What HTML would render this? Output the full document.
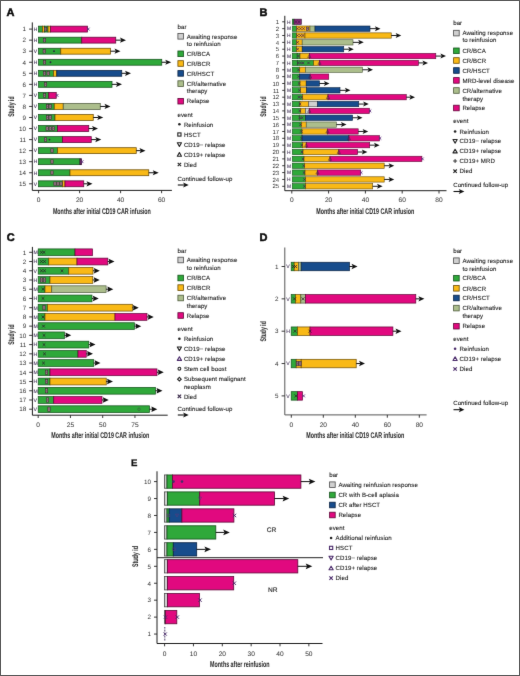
<!DOCTYPE html>
<html><head><meta charset="utf-8"><style>
html,body{margin:0;padding:0;background:#fff;}
svg{display:block;}
text{font-family:"Liberation Sans", sans-serif;text-rendering:geometricPrecision;}
</style></head><body>
<svg width="520" height="676" viewBox="0 0 520 676">
<defs><filter id="bl" x="0" y="0" width="520" height="676" filterUnits="userSpaceOnUse" color-interpolation-filters="sRGB"><feConvolveMatrix order="3" kernelMatrix="0.0052 0.0619 0.0052 0.0619 0.7314 0.0619 0.0052 0.0619 0.0052" edgeMode="duplicate" preserveAlpha="true"/></filter></defs>
<g filter="url(#bl)">
<rect x="0" y="0" width="520" height="676" fill="#fff"/>
<text x="6.6" y="16.3" font-size="11" font-weight="bold" fill="#0a0a0a" stroke="#0a0a0a" stroke-width="0.5">A</text>
<path d="M32.30,22.40 L32.30,190.40 L171.90,190.40" fill="none" stroke="#111" stroke-width="0.95"/>
<line x1="29.10" y1="29.10" x2="32.30" y2="29.10" stroke="#222" stroke-width="0.9"/>
<text x="26.10" y="31.37" font-size="6.3" text-anchor="end" fill="#333">1</text>
<line x1="29.10" y1="40.15" x2="32.30" y2="40.15" stroke="#222" stroke-width="0.9"/>
<text x="26.10" y="42.42" font-size="6.3" text-anchor="end" fill="#333">2</text>
<line x1="29.10" y1="51.20" x2="32.30" y2="51.20" stroke="#222" stroke-width="0.9"/>
<text x="26.10" y="53.47" font-size="6.3" text-anchor="end" fill="#333">3</text>
<line x1="29.10" y1="62.25" x2="32.30" y2="62.25" stroke="#222" stroke-width="0.9"/>
<text x="26.10" y="64.52" font-size="6.3" text-anchor="end" fill="#333">4</text>
<line x1="29.10" y1="73.30" x2="32.30" y2="73.30" stroke="#222" stroke-width="0.9"/>
<text x="26.10" y="75.57" font-size="6.3" text-anchor="end" fill="#333">5</text>
<line x1="29.10" y1="84.35" x2="32.30" y2="84.35" stroke="#222" stroke-width="0.9"/>
<text x="26.10" y="86.62" font-size="6.3" text-anchor="end" fill="#333">6</text>
<line x1="29.10" y1="95.40" x2="32.30" y2="95.40" stroke="#222" stroke-width="0.9"/>
<text x="26.10" y="97.67" font-size="6.3" text-anchor="end" fill="#333">7</text>
<line x1="29.10" y1="106.45" x2="32.30" y2="106.45" stroke="#222" stroke-width="0.9"/>
<text x="26.10" y="108.72" font-size="6.3" text-anchor="end" fill="#333">8</text>
<line x1="29.10" y1="117.50" x2="32.30" y2="117.50" stroke="#222" stroke-width="0.9"/>
<text x="26.10" y="119.77" font-size="6.3" text-anchor="end" fill="#333">9</text>
<line x1="29.10" y1="128.55" x2="32.30" y2="128.55" stroke="#222" stroke-width="0.9"/>
<text x="26.10" y="130.82" font-size="6.3" text-anchor="end" fill="#333">10</text>
<line x1="29.10" y1="139.60" x2="32.30" y2="139.60" stroke="#222" stroke-width="0.9"/>
<text x="26.10" y="141.87" font-size="6.3" text-anchor="end" fill="#333">11</text>
<line x1="29.10" y1="150.65" x2="32.30" y2="150.65" stroke="#222" stroke-width="0.9"/>
<text x="26.10" y="152.92" font-size="6.3" text-anchor="end" fill="#333">12</text>
<line x1="29.10" y1="161.70" x2="32.30" y2="161.70" stroke="#222" stroke-width="0.9"/>
<text x="26.10" y="163.97" font-size="6.3" text-anchor="end" fill="#333">13</text>
<line x1="29.10" y1="172.75" x2="32.30" y2="172.75" stroke="#222" stroke-width="0.9"/>
<text x="26.10" y="175.02" font-size="6.3" text-anchor="end" fill="#333">14</text>
<line x1="29.10" y1="183.80" x2="32.30" y2="183.80" stroke="#222" stroke-width="0.9"/>
<text x="26.10" y="186.07" font-size="6.3" text-anchor="end" fill="#333">15</text>
<line x1="38.60" y1="190.40" x2="38.60" y2="193.20" stroke="#222" stroke-width="0.9"/>
<text x="38.60" y="201.68" font-size="6.6" text-anchor="middle" fill="#3a3a3a" stroke="#3a3a3a" stroke-width="0.06">0</text>
<line x1="79.60" y1="190.40" x2="79.60" y2="193.20" stroke="#222" stroke-width="0.9"/>
<text x="79.60" y="201.68" font-size="6.6" text-anchor="middle" fill="#3a3a3a" stroke="#3a3a3a" stroke-width="0.06">20</text>
<line x1="120.60" y1="190.40" x2="120.60" y2="193.20" stroke="#222" stroke-width="0.9"/>
<text x="120.60" y="201.68" font-size="6.6" text-anchor="middle" fill="#3a3a3a" stroke="#3a3a3a" stroke-width="0.06">40</text>
<line x1="161.60" y1="190.40" x2="161.60" y2="193.20" stroke="#222" stroke-width="0.9"/>
<text x="161.60" y="201.68" font-size="6.6" text-anchor="middle" fill="#3a3a3a" stroke="#3a3a3a" stroke-width="0.06">60</text>
<text x="52.90" y="213.60" font-size="8.2" fill="#2a2a2a" font-weight="bold" stroke="#2a2a2a" stroke-width="0.05" text-anchor="start" textLength="98" lengthAdjust="spacingAndGlyphs" >Months after initial CD19 CAR infusion</text>
<text x="13.60" y="106.60" font-size="8.2" fill="#2a2a2a" font-weight="bold" stroke="#2a2a2a" stroke-width="0.05" text-anchor="middle" textLength="20.5" lengthAdjust="spacingAndGlyphs" transform="rotate(-90 13.60 106.60)">Study id</text>
<rect x="38.60" y="26.15" width="3.90" height="5.90" fill="#2fa83a" stroke="#15501c" stroke-width="0.75"/>
<rect x="42.50" y="26.15" width="2.00" height="5.90" fill="#f9b916" stroke="#6a4c06" stroke-width="0.75"/>
<rect x="44.50" y="26.15" width="3.50" height="5.90" fill="#2fa83a" stroke="#15501c" stroke-width="0.75"/>
<rect x="48.00" y="26.15" width="2.50" height="5.90" fill="#f9b916" stroke="#6a4c06" stroke-width="0.75"/>
<rect x="50.50" y="26.15" width="37.00" height="5.90" fill="#e1097f" stroke="#5e0838" stroke-width="0.75"/>
<rect x="44.30" y="27.27" width="2.4" height="3.66" fill="#b4949c" stroke="#3a2a30" stroke-width="0.6"/>
<path d="M44.70,27.77 L46.30,30.43 M44.70,30.43 L46.30,27.77" stroke="#5a3050" stroke-width="0.4"/>
<path d="M86.80,27.70 L89.60,30.50 M86.80,30.50 L89.60,27.70" stroke="#5a2a7a" stroke-width="0.9" fill="none"/>
<text x="33.80" y="30.86" font-size="4.9" fill="#4a3a5e" stroke="#4a3a5e" stroke-width="0.12">H</text>
<rect x="38.60" y="37.20" width="43.15" height="5.90" fill="#2fa83a" stroke="#15501c" stroke-width="0.75"/>
<rect x="81.75" y="37.20" width="34.00" height="5.90" fill="#e1097f" stroke="#5e0838" stroke-width="0.75"/>
<rect x="43.30" y="38.32" width="2.4" height="3.66" fill="#b4949c" stroke="#3a2a30" stroke-width="0.6"/>
<path d="M43.70,38.82 L45.30,41.48 M43.70,41.48 L45.30,38.82" stroke="#5a3050" stroke-width="0.4"/>
<line x1="115.75" y1="40.15" x2="121.30" y2="40.15" stroke="#111" stroke-width="1.0"/>
<path d="M126.00,40.15 L120.00,37.55 L121.30,40.15 L120.00,42.75 Z" fill="#111"/>
<text x="33.80" y="41.91" font-size="4.9" fill="#4a3a5e" stroke="#4a3a5e" stroke-width="0.12">H</text>
<rect x="38.60" y="48.25" width="22.15" height="5.90" fill="#2fa83a" stroke="#15501c" stroke-width="0.75"/>
<rect x="60.75" y="48.25" width="49.75" height="5.90" fill="#f9b916" stroke="#6a4c06" stroke-width="0.75"/>
<rect x="43.10" y="49.37" width="2.4" height="3.66" fill="#b4949c" stroke="#3a2a30" stroke-width="0.6"/>
<path d="M43.50,49.87 L45.10,52.53 M43.50,52.53 L45.10,49.87" stroke="#5a3050" stroke-width="0.4"/>
<circle cx="54.00" cy="51.20" r="0.9" fill="#2a2040"/>
<line x1="110.50" y1="51.20" x2="115.80" y2="51.20" stroke="#111" stroke-width="1.0"/>
<path d="M120.50,51.20 L114.50,48.60 L115.80,51.20 L114.50,53.80 Z" fill="#111"/>
<text x="33.80" y="52.96" font-size="4.9" fill="#4a3a5e" stroke="#4a3a5e" stroke-width="0.12">V</text>
<rect x="38.60" y="59.30" width="123.15" height="5.90" fill="#2fa83a" stroke="#15501c" stroke-width="0.75"/>
<rect x="43.30" y="60.42" width="2.4" height="3.66" fill="#b4949c" stroke="#3a2a30" stroke-width="0.6"/>
<path d="M43.70,60.92 L45.30,63.58 M43.70,63.58 L45.30,60.92" stroke="#5a3050" stroke-width="0.4"/>
<circle cx="50.50" cy="62.25" r="0.9" fill="#2a2040"/>
<line x1="161.75" y1="62.25" x2="166.55" y2="62.25" stroke="#111" stroke-width="1.0"/>
<path d="M171.25,62.25 L165.25,59.65 L166.55,62.25 L165.25,64.85 Z" fill="#111"/>
<text x="33.80" y="64.01" font-size="4.9" fill="#4a3a5e" stroke="#4a3a5e" stroke-width="0.12">H</text>
<rect x="38.60" y="70.35" width="14.90" height="5.90" fill="#2fa83a" stroke="#15501c" stroke-width="0.75"/>
<rect x="53.50" y="70.35" width="3.30" height="5.90" fill="#f9b916" stroke="#6a4c06" stroke-width="0.75"/>
<rect x="56.80" y="70.35" width="64.95" height="5.90" fill="#174c8c" stroke="#0a2242" stroke-width="0.75"/>
<rect x="43.30" y="71.47" width="2.4" height="3.66" fill="#b4949c" stroke="#3a2a30" stroke-width="0.6"/>
<path d="M43.70,71.97 L45.30,74.63 M43.70,74.63 L45.30,71.97" stroke="#5a3050" stroke-width="0.4"/>
<rect x="47.00" y="71.47" width="2.4" height="3.66" fill="#b4949c" stroke="#3a2a30" stroke-width="0.6"/>
<path d="M47.40,71.97 L49.00,74.63 M47.40,74.63 L49.00,71.97" stroke="#5a3050" stroke-width="0.4"/>
<line x1="121.75" y1="73.30" x2="126.30" y2="73.30" stroke="#111" stroke-width="1.0"/>
<path d="M131.00,73.30 L125.00,70.70 L126.30,73.30 L125.00,75.90 Z" fill="#111"/>
<text x="33.80" y="75.06" font-size="4.9" fill="#4a3a5e" stroke="#4a3a5e" stroke-width="0.12">H</text>
<rect x="38.60" y="81.40" width="73.40" height="5.90" fill="#2fa83a" stroke="#15501c" stroke-width="0.75"/>
<rect x="44.30" y="82.52" width="2.4" height="3.66" fill="#b4949c" stroke="#3a2a30" stroke-width="0.6"/>
<path d="M44.70,83.02 L46.30,85.68 M44.70,85.68 L46.30,83.02" stroke="#5a3050" stroke-width="0.4"/>
<line x1="112.00" y1="84.35" x2="117.30" y2="84.35" stroke="#111" stroke-width="1.0"/>
<path d="M122.00,84.35 L116.00,81.75 L117.30,84.35 L116.00,86.95 Z" fill="#111"/>
<text x="33.80" y="86.11" font-size="4.9" fill="#4a3a5e" stroke="#4a3a5e" stroke-width="0.12">H</text>
<rect x="38.60" y="92.45" width="10.15" height="5.90" fill="#2fa83a" stroke="#15501c" stroke-width="0.75"/>
<rect x="48.75" y="92.45" width="7.50" height="5.90" fill="#e1097f" stroke="#5e0838" stroke-width="0.75"/>
<rect x="43.30" y="93.57" width="2.4" height="3.66" fill="#b4949c" stroke="#3a2a30" stroke-width="0.6"/>
<path d="M43.70,94.07 L45.30,96.73 M43.70,96.73 L45.30,94.07" stroke="#5a3050" stroke-width="0.4"/>
<path d="M55.60,94.00 L58.40,96.80 M55.60,96.80 L58.40,94.00" stroke="#5a2a7a" stroke-width="0.9" fill="none"/>
<text x="33.80" y="97.16" font-size="4.9" fill="#4a3a5e" stroke="#4a3a5e" stroke-width="0.12">V</text>
<rect x="38.60" y="103.50" width="15.65" height="5.90" fill="#2fa83a" stroke="#15501c" stroke-width="0.75"/>
<rect x="54.25" y="103.50" width="9.00" height="5.90" fill="#f9b916" stroke="#6a4c06" stroke-width="0.75"/>
<rect x="63.25" y="103.50" width="37.00" height="5.90" fill="#acbe8c" stroke="#4e5a3c" stroke-width="0.75"/>
<rect x="46.30" y="104.62" width="2.4" height="3.66" fill="#b4949c" stroke="#3a2a30" stroke-width="0.6"/>
<path d="M46.70,105.12 L48.30,107.78 M46.70,107.78 L48.30,105.12" stroke="#5a3050" stroke-width="0.4"/>
<rect x="49.00" y="104.62" width="2.4" height="3.66" fill="#b4949c" stroke="#3a2a30" stroke-width="0.6"/>
<path d="M49.40,105.12 L51.00,107.78 M49.40,107.78 L51.00,105.12" stroke="#5a3050" stroke-width="0.4"/>
<line x1="100.25" y1="106.45" x2="105.80" y2="106.45" stroke="#111" stroke-width="1.0"/>
<path d="M110.50,106.45 L104.50,103.85 L105.80,106.45 L104.50,109.05 Z" fill="#111"/>
<text x="33.80" y="108.21" font-size="4.9" fill="#4a3a5e" stroke="#4a3a5e" stroke-width="0.12">V</text>
<rect x="38.60" y="114.55" width="16.40" height="5.90" fill="#2fa83a" stroke="#15501c" stroke-width="0.75"/>
<rect x="55.00" y="114.55" width="38.25" height="5.90" fill="#f9b916" stroke="#6a4c06" stroke-width="0.75"/>
<rect x="46.30" y="115.67" width="2.4" height="3.66" fill="#b4949c" stroke="#3a2a30" stroke-width="0.6"/>
<path d="M46.70,116.17 L48.30,118.83 M46.70,118.83 L48.30,116.17" stroke="#5a3050" stroke-width="0.4"/>
<rect x="49.00" y="115.67" width="2.4" height="3.66" fill="#b4949c" stroke="#3a2a30" stroke-width="0.6"/>
<path d="M49.40,116.17 L51.00,118.83 M49.40,118.83 L51.00,116.17" stroke="#5a3050" stroke-width="0.4"/>
<line x1="93.25" y1="117.50" x2="98.55" y2="117.50" stroke="#111" stroke-width="1.0"/>
<path d="M103.25,117.50 L97.25,114.90 L98.55,117.50 L97.25,120.10 Z" fill="#111"/>
<text x="33.80" y="119.26" font-size="4.9" fill="#4a3a5e" stroke="#4a3a5e" stroke-width="0.12">V</text>
<rect x="38.60" y="125.60" width="18.90" height="5.90" fill="#2fa83a" stroke="#15501c" stroke-width="0.75"/>
<rect x="57.50" y="125.60" width="31.25" height="5.90" fill="#e1097f" stroke="#5e0838" stroke-width="0.75"/>
<rect x="46.00" y="126.72" width="2.4" height="3.66" fill="#b4949c" stroke="#3a2a30" stroke-width="0.6"/>
<path d="M46.40,127.22 L48.00,129.88 M46.40,129.88 L48.00,127.22" stroke="#5a3050" stroke-width="0.4"/>
<rect x="49.10" y="126.72" width="2.4" height="3.66" fill="#b4949c" stroke="#3a2a30" stroke-width="0.6"/>
<path d="M49.50,127.22 L51.10,129.88 M49.50,129.88 L51.10,127.22" stroke="#5a3050" stroke-width="0.4"/>
<rect x="52.20" y="126.72" width="2.4" height="3.66" fill="#b4949c" stroke="#3a2a30" stroke-width="0.6"/>
<path d="M52.60,127.22 L54.20,129.88 M52.60,129.88 L54.20,127.22" stroke="#5a3050" stroke-width="0.4"/>
<line x1="88.75" y1="128.55" x2="93.30" y2="128.55" stroke="#111" stroke-width="1.0"/>
<path d="M98.00,128.55 L92.00,125.95 L93.30,128.55 L92.00,131.15 Z" fill="#111"/>
<text x="33.80" y="130.31" font-size="4.9" fill="#4a3a5e" stroke="#4a3a5e" stroke-width="0.12">V</text>
<rect x="38.60" y="136.65" width="23.90" height="5.90" fill="#2fa83a" stroke="#15501c" stroke-width="0.75"/>
<rect x="62.50" y="136.65" width="28.75" height="5.90" fill="#e1097f" stroke="#5e0838" stroke-width="0.75"/>
<rect x="44.30" y="137.77" width="2.4" height="3.66" fill="#b4949c" stroke="#3a2a30" stroke-width="0.6"/>
<path d="M44.70,138.27 L46.30,140.93 M44.70,140.93 L46.30,138.27" stroke="#5a3050" stroke-width="0.4"/>
<circle cx="49.50" cy="139.60" r="0.9" fill="#2a2040"/>
<line x1="91.25" y1="139.60" x2="96.55" y2="139.60" stroke="#111" stroke-width="1.0"/>
<path d="M101.25,139.60 L95.25,137.00 L96.55,139.60 L95.25,142.20 Z" fill="#111"/>
<text x="33.80" y="141.36" font-size="4.9" fill="#4a3a5e" stroke="#4a3a5e" stroke-width="0.12">V</text>
<rect x="38.60" y="147.70" width="18.90" height="5.90" fill="#2fa83a" stroke="#15501c" stroke-width="0.75"/>
<rect x="57.50" y="147.70" width="78.75" height="5.90" fill="#f9b916" stroke="#6a4c06" stroke-width="0.75"/>
<rect x="50.80" y="148.82" width="2.4" height="3.66" fill="#b4949c" stroke="#3a2a30" stroke-width="0.6"/>
<path d="M51.20,149.32 L52.80,151.98 M51.20,151.98 L52.80,149.32" stroke="#5a3050" stroke-width="0.4"/>
<line x1="136.25" y1="150.65" x2="140.80" y2="150.65" stroke="#111" stroke-width="1.0"/>
<path d="M145.50,150.65 L139.50,148.05 L140.80,150.65 L139.50,153.25 Z" fill="#111"/>
<text x="33.80" y="152.41" font-size="4.9" fill="#4a3a5e" stroke="#4a3a5e" stroke-width="0.12">V</text>
<rect x="38.60" y="158.75" width="41.40" height="5.90" fill="#2fa83a" stroke="#15501c" stroke-width="0.75"/>
<rect x="80.00" y="158.75" width="1.60" height="5.90" fill="#8a2a78" stroke="#301030" stroke-width="0.75"/>
<rect x="50.80" y="159.87" width="2.4" height="3.66" fill="#b4949c" stroke="#3a2a30" stroke-width="0.6"/>
<path d="M51.20,160.37 L52.80,163.03 M51.20,163.03 L52.80,160.37" stroke="#5a3050" stroke-width="0.4"/>
<path d="M80.60,160.30 L83.40,163.10 M80.60,163.10 L83.40,160.30" stroke="#5a2a7a" stroke-width="0.9" fill="none"/>
<text x="33.80" y="163.46" font-size="4.9" fill="#4a3a5e" stroke="#4a3a5e" stroke-width="0.12">H</text>
<rect x="38.60" y="169.80" width="31.40" height="5.90" fill="#2fa83a" stroke="#15501c" stroke-width="0.75"/>
<rect x="70.00" y="169.80" width="78.75" height="5.90" fill="#f9b916" stroke="#6a4c06" stroke-width="0.75"/>
<rect x="50.80" y="170.92" width="2.4" height="3.66" fill="#b4949c" stroke="#3a2a30" stroke-width="0.6"/>
<path d="M51.20,171.42 L52.80,174.08 M51.20,174.08 L52.80,171.42" stroke="#5a3050" stroke-width="0.4"/>
<line x1="148.75" y1="172.75" x2="154.05" y2="172.75" stroke="#111" stroke-width="1.0"/>
<path d="M158.75,172.75 L152.75,170.15 L154.05,172.75 L152.75,175.35 Z" fill="#111"/>
<text x="33.80" y="174.51" font-size="4.9" fill="#4a3a5e" stroke="#4a3a5e" stroke-width="0.12">H</text>
<rect x="38.60" y="180.85" width="23.90" height="5.90" fill="#2fa83a" stroke="#15501c" stroke-width="0.75"/>
<rect x="62.50" y="180.85" width="2.50" height="5.90" fill="#f9b916" stroke="#6a4c06" stroke-width="0.75"/>
<rect x="65.00" y="180.85" width="18.75" height="5.90" fill="#e1097f" stroke="#5e0838" stroke-width="0.75"/>
<rect x="53.80" y="181.97" width="2.4" height="3.66" fill="#b4949c" stroke="#3a2a30" stroke-width="0.6"/>
<path d="M54.20,182.47 L55.80,185.13 M54.20,185.13 L55.80,182.47" stroke="#5a3050" stroke-width="0.4"/>
<rect x="56.80" y="181.97" width="2.4" height="3.66" fill="#b4949c" stroke="#3a2a30" stroke-width="0.6"/>
<path d="M57.20,182.47 L58.80,185.13 M57.20,185.13 L58.80,182.47" stroke="#5a3050" stroke-width="0.4"/>
<rect x="59.80" y="181.97" width="2.4" height="3.66" fill="#b4949c" stroke="#3a2a30" stroke-width="0.6"/>
<path d="M60.20,182.47 L61.80,185.13 M60.20,185.13 L61.80,182.47" stroke="#5a3050" stroke-width="0.4"/>
<line x1="83.75" y1="183.80" x2="87.80" y2="183.80" stroke="#111" stroke-width="1.0"/>
<path d="M92.50,183.80 L86.50,181.20 L87.80,183.80 L86.50,186.40 Z" fill="#111"/>
<text x="33.80" y="185.56" font-size="4.9" fill="#4a3a5e" stroke="#4a3a5e" stroke-width="0.12">V</text>
<text transform="translate(177.50,28.50) scale(1.0000,1)" font-size="6.10" letter-spacing="0.06" fill="#222" stroke="#222" stroke-width="0.1">bar</text>
<rect x="177.90" y="33.50" width="5.60" height="5.60" fill="#d0d0d0" stroke="#4a4a4a" stroke-width="0.8"/>
<text transform="translate(186.70,38.50) scale(1.0000,1)" font-size="6.10" letter-spacing="0.06" fill="#222" stroke="#222" stroke-width="0.1">Awaiting response</text>
<text transform="translate(186.70,45.50) scale(1.0000,1)" font-size="6.10" letter-spacing="0.06" fill="#222" stroke="#222" stroke-width="0.1">to reinfusion</text>
<rect x="177.90" y="51.00" width="5.60" height="5.60" fill="#2fa83a" stroke="#15501c" stroke-width="0.8"/>
<text transform="translate(186.70,56.00) scale(1.0000,1)" font-size="6.10" letter-spacing="0.06" fill="#222" stroke="#222" stroke-width="0.1">CR/BCA</text>
<rect x="177.90" y="60.70" width="5.60" height="5.60" fill="#f9b916" stroke="#6a4c06" stroke-width="0.8"/>
<text transform="translate(186.70,65.70) scale(1.0000,1)" font-size="6.10" letter-spacing="0.06" fill="#222" stroke="#222" stroke-width="0.1">CR/BCR</text>
<rect x="177.90" y="70.60" width="5.60" height="5.60" fill="#174c8c" stroke="#0a2242" stroke-width="0.8"/>
<text transform="translate(186.70,75.60) scale(1.0000,1)" font-size="6.10" letter-spacing="0.06" fill="#222" stroke="#222" stroke-width="0.1">CR/HSCT</text>
<rect x="177.90" y="80.80" width="5.60" height="5.60" fill="#acbe8c" stroke="#4e5a3c" stroke-width="0.8"/>
<text transform="translate(186.70,85.80) scale(1.0000,1)" font-size="6.10" letter-spacing="0.06" fill="#222" stroke="#222" stroke-width="0.1">CR/alternative</text>
<text transform="translate(186.70,93.40) scale(1.0000,1)" font-size="6.10" letter-spacing="0.06" fill="#222" stroke="#222" stroke-width="0.1">therapy</text>
<rect x="177.90" y="98.40" width="5.60" height="5.60" fill="#e1097f" stroke="#5e0838" stroke-width="0.8"/>
<text transform="translate(186.70,103.40) scale(1.0000,1)" font-size="6.10" letter-spacing="0.06" fill="#222" stroke="#222" stroke-width="0.1">Relapse</text>
<text transform="translate(177.50,116.70) scale(1.0000,1)" font-size="6.10" letter-spacing="0.06" fill="#222" stroke="#222" stroke-width="0.1">event</text>
<circle cx="179.40" cy="124.30" r="1.3" fill="#222"/>
<text transform="translate(183.90,126.50) scale(1.0000,1)" font-size="6.10" letter-spacing="0.06" fill="#222" stroke="#222" stroke-width="0.1">Reinfusion</text>
<rect x="177.80" y="132.90" width="3.2" height="3.2" fill="none" stroke="#222" stroke-width="1.1"/>
<text transform="translate(183.90,136.70) scale(1.0000,1)" font-size="6.10" letter-spacing="0.06" fill="#222" stroke="#222" stroke-width="0.1">HSCT</text>
<path d="M177.30,142.80 L181.50,142.80 L179.40,146.40 Z" fill="none" stroke="#222" stroke-width="1.1" stroke-linejoin="round"/>
<text transform="translate(183.90,146.70) scale(1.0000,1)" font-size="6.10" letter-spacing="0.06" fill="#222" stroke="#222" stroke-width="0.1">CD19− relapse</text>
<path d="M177.30,156.20 L181.50,156.20 L179.40,152.60 Z" fill="none" stroke="#222" stroke-width="1.1" stroke-linejoin="round"/>
<text transform="translate(183.90,156.70) scale(1.0000,1)" font-size="6.10" letter-spacing="0.06" fill="#222" stroke="#222" stroke-width="0.1">CD19+ relapse</text>
<path d="M177.70,162.80 L181.10,166.20 M177.70,166.20 L181.10,162.80" stroke="#222" stroke-width="1.1" fill="none"/>
<text transform="translate(183.90,166.70) scale(1.0000,1)" font-size="6.10" letter-spacing="0.06" fill="#222" stroke="#222" stroke-width="0.1">Died</text>
<text transform="translate(177.50,180.50) scale(1.0000,1)" font-size="6.10" letter-spacing="0.06" fill="#222" stroke="#222" stroke-width="0.1">Continued follow-up</text>
<line x1="177.80" y1="185.00" x2="184.40" y2="185.00" stroke="#111" stroke-width="1.1"/>
<path d="M188.70,185.00 L183.10,182.40 L184.40,185.00 L183.10,187.60 Z" fill="#111"/>
<text x="259.6" y="15.6" font-size="11" font-weight="bold" fill="#0a0a0a" stroke="#0a0a0a" stroke-width="0.5">B</text>
<path d="M284.80,15.80 L284.80,190.70 L446.50,190.70" fill="none" stroke="#111" stroke-width="0.95"/>
<line x1="282.20" y1="21.80" x2="284.80" y2="21.80" stroke="#222" stroke-width="0.9"/>
<text x="279.20" y="23.96" font-size="6.0" text-anchor="end" fill="#333">1</text>
<line x1="282.20" y1="28.65" x2="284.80" y2="28.65" stroke="#222" stroke-width="0.9"/>
<text x="279.20" y="30.81" font-size="6.0" text-anchor="end" fill="#333">2</text>
<line x1="282.20" y1="35.51" x2="284.80" y2="35.51" stroke="#222" stroke-width="0.9"/>
<text x="279.20" y="37.67" font-size="6.0" text-anchor="end" fill="#333">3</text>
<line x1="282.20" y1="42.36" x2="284.80" y2="42.36" stroke="#222" stroke-width="0.9"/>
<text x="279.20" y="44.52" font-size="6.0" text-anchor="end" fill="#333">4</text>
<line x1="282.20" y1="49.22" x2="284.80" y2="49.22" stroke="#222" stroke-width="0.9"/>
<text x="279.20" y="51.38" font-size="6.0" text-anchor="end" fill="#333">5</text>
<line x1="282.20" y1="56.07" x2="284.80" y2="56.07" stroke="#222" stroke-width="0.9"/>
<text x="279.20" y="58.23" font-size="6.0" text-anchor="end" fill="#333">6</text>
<line x1="282.20" y1="62.92" x2="284.80" y2="62.92" stroke="#222" stroke-width="0.9"/>
<text x="279.20" y="65.08" font-size="6.0" text-anchor="end" fill="#333">7</text>
<line x1="282.20" y1="69.78" x2="284.80" y2="69.78" stroke="#222" stroke-width="0.9"/>
<text x="279.20" y="71.94" font-size="6.0" text-anchor="end" fill="#333">8</text>
<line x1="282.20" y1="76.63" x2="284.80" y2="76.63" stroke="#222" stroke-width="0.9"/>
<text x="279.20" y="78.79" font-size="6.0" text-anchor="end" fill="#333">9</text>
<line x1="282.20" y1="83.49" x2="284.80" y2="83.49" stroke="#222" stroke-width="0.9"/>
<text x="279.20" y="85.65" font-size="6.0" text-anchor="end" fill="#333">10</text>
<line x1="282.20" y1="90.34" x2="284.80" y2="90.34" stroke="#222" stroke-width="0.9"/>
<text x="279.20" y="92.50" font-size="6.0" text-anchor="end" fill="#333">11</text>
<line x1="282.20" y1="97.19" x2="284.80" y2="97.19" stroke="#222" stroke-width="0.9"/>
<text x="279.20" y="99.35" font-size="6.0" text-anchor="end" fill="#333">12</text>
<line x1="282.20" y1="104.05" x2="284.80" y2="104.05" stroke="#222" stroke-width="0.9"/>
<text x="279.20" y="106.21" font-size="6.0" text-anchor="end" fill="#333">13</text>
<line x1="282.20" y1="110.90" x2="284.80" y2="110.90" stroke="#222" stroke-width="0.9"/>
<text x="279.20" y="113.06" font-size="6.0" text-anchor="end" fill="#333">14</text>
<line x1="282.20" y1="117.76" x2="284.80" y2="117.76" stroke="#222" stroke-width="0.9"/>
<text x="279.20" y="119.92" font-size="6.0" text-anchor="end" fill="#333">15</text>
<line x1="282.20" y1="124.61" x2="284.80" y2="124.61" stroke="#222" stroke-width="0.9"/>
<text x="279.20" y="126.77" font-size="6.0" text-anchor="end" fill="#333">16</text>
<line x1="282.20" y1="131.46" x2="284.80" y2="131.46" stroke="#222" stroke-width="0.9"/>
<text x="279.20" y="133.62" font-size="6.0" text-anchor="end" fill="#333">17</text>
<line x1="282.20" y1="138.32" x2="284.80" y2="138.32" stroke="#222" stroke-width="0.9"/>
<text x="279.20" y="140.48" font-size="6.0" text-anchor="end" fill="#333">18</text>
<line x1="282.20" y1="145.17" x2="284.80" y2="145.17" stroke="#222" stroke-width="0.9"/>
<text x="279.20" y="147.33" font-size="6.0" text-anchor="end" fill="#333">19</text>
<line x1="282.20" y1="152.03" x2="284.80" y2="152.03" stroke="#222" stroke-width="0.9"/>
<text x="279.20" y="154.19" font-size="6.0" text-anchor="end" fill="#333">20</text>
<line x1="282.20" y1="158.88" x2="284.80" y2="158.88" stroke="#222" stroke-width="0.9"/>
<text x="279.20" y="161.04" font-size="6.0" text-anchor="end" fill="#333">21</text>
<line x1="282.20" y1="165.73" x2="284.80" y2="165.73" stroke="#222" stroke-width="0.9"/>
<text x="279.20" y="167.89" font-size="6.0" text-anchor="end" fill="#333">22</text>
<line x1="282.20" y1="172.59" x2="284.80" y2="172.59" stroke="#222" stroke-width="0.9"/>
<text x="279.20" y="174.75" font-size="6.0" text-anchor="end" fill="#333">23</text>
<line x1="282.20" y1="179.44" x2="284.80" y2="179.44" stroke="#222" stroke-width="0.9"/>
<text x="279.20" y="181.60" font-size="6.0" text-anchor="end" fill="#333">24</text>
<line x1="282.20" y1="186.30" x2="284.80" y2="186.30" stroke="#222" stroke-width="0.9"/>
<text x="279.20" y="188.46" font-size="6.0" text-anchor="end" fill="#333">25</text>
<line x1="291.80" y1="190.70" x2="291.80" y2="193.50" stroke="#222" stroke-width="0.9"/>
<text x="291.80" y="202.38" font-size="6.6" text-anchor="middle" fill="#3a3a3a" stroke="#3a3a3a" stroke-width="0.06">0</text>
<line x1="328.60" y1="190.70" x2="328.60" y2="193.50" stroke="#222" stroke-width="0.9"/>
<text x="328.60" y="202.38" font-size="6.6" text-anchor="middle" fill="#3a3a3a" stroke="#3a3a3a" stroke-width="0.06">20</text>
<line x1="365.40" y1="190.70" x2="365.40" y2="193.50" stroke="#222" stroke-width="0.9"/>
<text x="365.40" y="202.38" font-size="6.6" text-anchor="middle" fill="#3a3a3a" stroke="#3a3a3a" stroke-width="0.06">40</text>
<line x1="402.20" y1="190.70" x2="402.20" y2="193.50" stroke="#222" stroke-width="0.9"/>
<text x="402.20" y="202.38" font-size="6.6" text-anchor="middle" fill="#3a3a3a" stroke="#3a3a3a" stroke-width="0.06">60</text>
<line x1="439.00" y1="190.70" x2="439.00" y2="193.50" stroke="#222" stroke-width="0.9"/>
<text x="439.00" y="202.38" font-size="6.6" text-anchor="middle" fill="#3a3a3a" stroke="#3a3a3a" stroke-width="0.06">80</text>
<text x="316.30" y="213.60" font-size="8.2" fill="#2a2a2a" font-weight="bold" stroke="#2a2a2a" stroke-width="0.05" text-anchor="start" textLength="98" lengthAdjust="spacingAndGlyphs" >Months after initial CD19 CAR infusion</text>
<text x="265.60" y="106.60" font-size="8.2" fill="#2a2a2a" font-weight="bold" stroke="#2a2a2a" stroke-width="0.05" text-anchor="middle" textLength="20.5" lengthAdjust="spacingAndGlyphs" transform="rotate(-90 265.60 106.60)">Study id</text>
<rect x="292.30" y="19.15" width="1.70" height="5.30" fill="#2fa83a" stroke="#15501c" stroke-width="0.6"/>
<rect x="294.00" y="19.15" width="7.30" height="5.30" fill="#8a2a78" stroke="#301030" stroke-width="0.6"/>
<path d="M294.70,20.50 L297.30,23.10 M294.70,23.10 L297.30,20.50" stroke="#4a2050" stroke-width="0.75" fill="none"/>
<path d="M297.70,20.50 L300.30,23.10 M297.70,23.10 L300.30,20.50" stroke="#4a2050" stroke-width="0.75" fill="none"/>
<text x="287.00" y="23.56" font-size="4.9" fill="#4a3a5e" stroke="#4a3a5e" stroke-width="0.12">H</text>
<rect x="292.30" y="26.00" width="4.20" height="5.30" fill="#2fa83a" stroke="#15501c" stroke-width="0.6"/>
<rect x="296.50" y="26.00" width="13.50" height="5.30" fill="#f9b916" stroke="#6a4c06" stroke-width="0.6"/>
<rect x="310.00" y="26.00" width="5.00" height="5.30" fill="#acbe8c" stroke="#4e5a3c" stroke-width="0.6"/>
<rect x="315.00" y="26.00" width="55.00" height="5.30" fill="#174c8c" stroke="#0a2242" stroke-width="0.6"/>
<path d="M296.20,27.35 L298.80,29.95 M296.20,29.95 L298.80,27.35" stroke="#4a2050" stroke-width="0.75" fill="none"/>
<path d="M299.20,27.35 L301.80,29.95 M299.20,29.95 L301.80,27.35" stroke="#4a2050" stroke-width="0.75" fill="none"/>
<path d="M302.20,27.35 L304.80,29.95 M302.20,29.95 L304.80,27.35" stroke="#4a2050" stroke-width="0.75" fill="none"/>
<rect x="306.30" y="27.01" width="2.4" height="3.29" fill="#b4949c" stroke="#3a2a30" stroke-width="0.6"/>
<path d="M306.70,27.51 L308.30,29.80 M306.70,29.80 L308.30,27.51" stroke="#5a3050" stroke-width="0.4"/>
<line x1="370.00" y1="28.65" x2="376.20" y2="28.65" stroke="#111" stroke-width="0.95"/>
<path d="M380.50,28.65 L374.90,26.15 L376.20,28.65 L374.90,31.15 Z" fill="#111"/>
<text x="287.00" y="30.42" font-size="4.9" fill="#4a3a5e" stroke="#4a3a5e" stroke-width="0.12">M</text>
<rect x="292.30" y="32.86" width="4.20" height="5.30" fill="#2fa83a" stroke="#15501c" stroke-width="0.6"/>
<rect x="296.50" y="32.86" width="8.50" height="5.30" fill="#f9b916" stroke="#6a4c06" stroke-width="0.6"/>
<rect x="305.00" y="32.86" width="86.25" height="5.30" fill="#f9b916" stroke="#6a4c06" stroke-width="0.6"/>
<path d="M296.20,34.21 L298.80,36.81 M296.20,36.81 L298.80,34.21" stroke="#4a2050" stroke-width="0.75" fill="none"/>
<path d="M299.20,34.21 L301.80,36.81 M299.20,36.81 L301.80,34.21" stroke="#4a2050" stroke-width="0.75" fill="none"/>
<path d="M301.70,34.21 L304.30,36.81 M301.70,36.81 L304.30,34.21" stroke="#4a2050" stroke-width="0.75" fill="none"/>
<line x1="391.25" y1="35.51" x2="396.95" y2="35.51" stroke="#111" stroke-width="0.95"/>
<path d="M401.25,35.51 L395.65,33.01 L396.95,35.51 L395.65,38.01 Z" fill="#111"/>
<text x="287.00" y="37.27" font-size="4.9" fill="#4a3a5e" stroke="#4a3a5e" stroke-width="0.12">H</text>
<rect x="292.30" y="39.71" width="4.20" height="5.30" fill="#2fa83a" stroke="#15501c" stroke-width="0.6"/>
<rect x="296.50" y="39.71" width="5.70" height="5.30" fill="#f9b916" stroke="#6a4c06" stroke-width="0.6"/>
<rect x="302.20" y="39.71" width="50.80" height="5.30" fill="#acbe8c" stroke="#4e5a3c" stroke-width="0.6"/>
<path d="M296.30,41.06 L298.90,43.66 M296.30,43.66 L298.90,41.06" stroke="#4a2050" stroke-width="0.75" fill="none"/>
<line x1="353.00" y1="42.36" x2="359.45" y2="42.36" stroke="#111" stroke-width="0.95"/>
<path d="M363.75,42.36 L358.15,39.86 L359.45,42.36 L358.15,44.86 Z" fill="#111"/>
<text x="287.00" y="44.13" font-size="4.9" fill="#4a3a5e" stroke="#4a3a5e" stroke-width="0.12">H</text>
<rect x="292.30" y="46.57" width="4.20" height="5.30" fill="#2fa83a" stroke="#15501c" stroke-width="0.6"/>
<rect x="296.50" y="46.57" width="5.70" height="5.30" fill="#f9b916" stroke="#6a4c06" stroke-width="0.6"/>
<rect x="302.20" y="46.57" width="41.55" height="5.30" fill="#174c8c" stroke="#0a2242" stroke-width="0.6"/>
<path d="M296.30,47.92 L298.90,50.52 M296.30,50.52 L298.90,47.92" stroke="#4a2050" stroke-width="0.75" fill="none"/>
<line x1="343.75" y1="49.22" x2="349.45" y2="49.22" stroke="#111" stroke-width="0.95"/>
<path d="M353.75,49.22 L348.15,46.72 L349.45,49.22 L348.15,51.72 Z" fill="#111"/>
<text x="287.00" y="50.98" font-size="4.9" fill="#4a3a5e" stroke="#4a3a5e" stroke-width="0.12">H</text>
<rect x="292.30" y="53.42" width="4.90" height="5.30" fill="#2fa83a" stroke="#15501c" stroke-width="0.6"/>
<rect x="297.20" y="53.42" width="2.80" height="5.30" fill="#2fa83a" stroke="#15501c" stroke-width="0.6"/>
<rect x="300.00" y="53.42" width="9.30" height="5.30" fill="#f9b916" stroke="#6a4c06" stroke-width="0.6"/>
<rect x="309.30" y="53.42" width="126.50" height="5.30" fill="#e1097f" stroke="#5e0838" stroke-width="0.6"/>
<path d="M297.00,54.77 L299.60,57.37 M297.00,57.37 L299.60,54.77" stroke="#4a2050" stroke-width="0.75" fill="none"/>
<path d="M307.71,57.50 L310.89,57.50 L309.30,54.48 Z" fill="none" stroke="#4a2050" stroke-width="0.6"/>
<line x1="435.80" y1="56.07" x2="441.70" y2="56.07" stroke="#111" stroke-width="0.95"/>
<path d="M446.00,56.07 L440.40,53.57 L441.70,56.07 L440.40,58.57 Z" fill="#111"/>
<text x="287.00" y="57.83" font-size="4.9" fill="#4a3a5e" stroke="#4a3a5e" stroke-width="0.12">M</text>
<rect x="292.30" y="60.27" width="5.20" height="5.30" fill="#2fa83a" stroke="#15501c" stroke-width="0.6"/>
<rect x="297.50" y="60.27" width="16.20" height="5.30" fill="#2fa83a" stroke="#15501c" stroke-width="0.6"/>
<rect x="313.70" y="60.27" width="5.80" height="5.30" fill="#f9b916" stroke="#6a4c06" stroke-width="0.6"/>
<rect x="319.50" y="60.27" width="99.00" height="5.30" fill="#e1097f" stroke="#5e0838" stroke-width="0.6"/>
<path d="M296.90,61.62 L299.50,64.22 M296.90,64.22 L299.50,61.62" stroke="#4a2050" stroke-width="0.75" fill="none"/>
<path d="M299.30,61.62 L301.90,64.22 M299.30,64.22 L301.90,61.62" stroke="#4a2050" stroke-width="0.75" fill="none"/>
<path d="M301.70,61.62 L304.30,64.22 M301.70,64.22 L304.30,61.62" stroke="#4a2050" stroke-width="0.75" fill="none"/>
<path d="M307.20,61.62 L309.80,64.22 M307.20,64.22 L309.80,61.62" stroke="#4a2050" stroke-width="0.75" fill="none"/>
<path d="M317.91,64.36 L321.09,64.36 L319.50,61.33 Z" fill="none" stroke="#4a2050" stroke-width="0.6"/>
<line x1="418.50" y1="62.92" x2="423.70" y2="62.92" stroke="#111" stroke-width="0.95"/>
<path d="M428.00,62.92 L422.40,60.42 L423.70,62.92 L422.40,65.42 Z" fill="#111"/>
<text x="287.00" y="64.69" font-size="4.9" fill="#4a3a5e" stroke="#4a3a5e" stroke-width="0.12">H</text>
<rect x="292.30" y="67.13" width="7.20" height="5.30" fill="#2fa83a" stroke="#15501c" stroke-width="0.6"/>
<rect x="299.50" y="67.13" width="6.00" height="5.30" fill="#f9b916" stroke="#6a4c06" stroke-width="0.6"/>
<rect x="305.50" y="67.13" width="57.00" height="5.30" fill="#acbe8c" stroke="#4e5a3c" stroke-width="0.6"/>
<path d="M297.30,68.48 L299.90,71.08 M297.30,71.08 L299.90,68.48" stroke="#4a2050" stroke-width="0.75" fill="none"/>
<line x1="362.50" y1="69.78" x2="368.70" y2="69.78" stroke="#111" stroke-width="0.95"/>
<path d="M373.00,69.78 L367.40,67.28 L368.70,69.78 L367.40,72.28 Z" fill="#111"/>
<text x="287.00" y="71.54" font-size="4.9" fill="#4a3a5e" stroke="#4a3a5e" stroke-width="0.12">M</text>
<rect x="292.30" y="73.98" width="7.20" height="5.30" fill="#2fa83a" stroke="#15501c" stroke-width="0.6"/>
<rect x="299.50" y="73.98" width="10.70" height="5.30" fill="#174c8c" stroke="#0a2242" stroke-width="0.6"/>
<rect x="310.20" y="73.98" width="18.55" height="5.30" fill="#e1097f" stroke="#5e0838" stroke-width="0.6"/>
<path d="M297.30,75.33 L299.90,77.93 M297.30,77.93 L299.90,75.33" stroke="#4a2050" stroke-width="0.75" fill="none"/>
<path d="M308.61,78.06 L311.79,78.06 L310.20,75.04 Z" fill="none" stroke="#4a2050" stroke-width="0.6"/>
<text x="287.00" y="78.40" font-size="4.9" fill="#4a3a5e" stroke="#4a3a5e" stroke-width="0.12">M</text>
<rect x="292.30" y="80.84" width="7.70" height="5.30" fill="#2fa83a" stroke="#15501c" stroke-width="0.6"/>
<rect x="300.00" y="80.84" width="6.20" height="5.30" fill="#f9b916" stroke="#6a4c06" stroke-width="0.6"/>
<rect x="306.20" y="80.84" width="13.30" height="5.30" fill="#174c8c" stroke="#0a2242" stroke-width="0.6"/>
<path d="M297.90,82.19 L300.50,84.79 M297.90,84.79 L300.50,82.19" stroke="#4a2050" stroke-width="0.75" fill="none"/>
<line x1="319.50" y1="83.49" x2="325.20" y2="83.49" stroke="#111" stroke-width="0.95"/>
<path d="M329.50,83.49 L323.90,80.99 L325.20,83.49 L323.90,85.99 Z" fill="#111"/>
<text x="287.00" y="85.25" font-size="4.9" fill="#4a3a5e" stroke="#4a3a5e" stroke-width="0.12">M</text>
<rect x="292.30" y="87.69" width="8.20" height="5.30" fill="#2fa83a" stroke="#15501c" stroke-width="0.6"/>
<rect x="300.50" y="87.69" width="6.00" height="5.30" fill="#f9b916" stroke="#6a4c06" stroke-width="0.6"/>
<rect x="306.50" y="87.69" width="33.50" height="5.30" fill="#174c8c" stroke="#0a2242" stroke-width="0.6"/>
<path d="M298.20,89.04 L300.80,91.64 M298.20,91.64 L300.80,89.04" stroke="#4a2050" stroke-width="0.75" fill="none"/>
<line x1="340.00" y1="90.34" x2="346.20" y2="90.34" stroke="#111" stroke-width="0.95"/>
<path d="M350.50,90.34 L344.90,87.84 L346.20,90.34 L344.90,92.84 Z" fill="#111"/>
<text x="287.00" y="92.10" font-size="4.9" fill="#4a3a5e" stroke="#4a3a5e" stroke-width="0.12">M</text>
<rect x="292.30" y="94.54" width="10.20" height="5.30" fill="#2fa83a" stroke="#15501c" stroke-width="0.6"/>
<rect x="302.50" y="94.54" width="25.50" height="5.30" fill="#f9b916" stroke="#6a4c06" stroke-width="0.6"/>
<rect x="328.00" y="94.54" width="78.25" height="5.30" fill="#e1097f" stroke="#5e0838" stroke-width="0.6"/>
<path d="M297.70,95.89 L300.30,98.49 M297.70,98.49 L300.30,95.89" stroke="#4a2050" stroke-width="0.75" fill="none"/>
<path d="M300.30,95.89 L302.90,98.49 M300.30,98.49 L302.90,95.89" stroke="#4a2050" stroke-width="0.75" fill="none"/>
<path d="M326.41,98.62 L329.59,98.62 L328.00,95.60 Z" fill="none" stroke="#4a2050" stroke-width="0.6"/>
<line x1="406.25" y1="97.19" x2="410.70" y2="97.19" stroke="#111" stroke-width="0.95"/>
<path d="M415.00,97.19 L409.40,94.69 L410.70,97.19 L409.40,99.69 Z" fill="#111"/>
<text x="287.00" y="98.96" font-size="4.9" fill="#4a3a5e" stroke="#4a3a5e" stroke-width="0.12">M</text>
<rect x="292.30" y="101.40" width="7.70" height="5.30" fill="#2fa83a" stroke="#15501c" stroke-width="0.6"/>
<rect x="300.00" y="101.40" width="8.75" height="5.30" fill="#f9b916" stroke="#6a4c06" stroke-width="0.6"/>
<rect x="308.75" y="101.40" width="8.75" height="5.30" fill="#d0d0d0" stroke="#4a4a4a" stroke-width="0.6"/>
<rect x="317.50" y="101.40" width="41.25" height="5.30" fill="#174c8c" stroke="#0a2242" stroke-width="0.6"/>
<path d="M298.70,102.75 L301.30,105.35 M298.70,105.35 L301.30,102.75" stroke="#4a2050" stroke-width="0.75" fill="none"/>
<line x1="358.75" y1="104.05" x2="364.45" y2="104.05" stroke="#111" stroke-width="0.95"/>
<path d="M368.75,104.05 L363.15,101.55 L364.45,104.05 L363.15,106.55 Z" fill="#111"/>
<text x="287.00" y="105.81" font-size="4.9" fill="#4a3a5e" stroke="#4a3a5e" stroke-width="0.12">M</text>
<rect x="292.30" y="108.25" width="8.20" height="5.30" fill="#2fa83a" stroke="#15501c" stroke-width="0.6"/>
<rect x="300.50" y="108.25" width="5.00" height="5.30" fill="#f9b916" stroke="#6a4c06" stroke-width="0.6"/>
<rect x="305.50" y="108.25" width="3.75" height="5.30" fill="#d0d0d0" stroke="#4a4a4a" stroke-width="0.6"/>
<rect x="309.25" y="108.25" width="60.25" height="5.30" fill="#e1097f" stroke="#5e0838" stroke-width="0.6"/>
<path d="M298.50,109.60 L301.10,112.20 M298.50,112.20 L301.10,109.60" stroke="#4a2050" stroke-width="0.75" fill="none"/>
<path d="M307.66,112.33 L310.84,112.33 L309.25,109.31 Z" fill="none" stroke="#4a2050" stroke-width="0.6"/>
<path d="M368.70,109.60 L371.30,112.20 M368.70,112.20 L371.30,109.60" stroke="#5a2a7a" stroke-width="0.9" fill="none"/>
<text x="287.00" y="112.67" font-size="4.9" fill="#4a3a5e" stroke="#4a3a5e" stroke-width="0.12">M</text>
<rect x="292.30" y="115.11" width="7.20" height="5.30" fill="#2fa83a" stroke="#15501c" stroke-width="0.6"/>
<rect x="299.50" y="115.11" width="6.00" height="5.30" fill="#2fa83a" stroke="#15501c" stroke-width="0.6"/>
<rect x="305.50" y="115.11" width="47.10" height="5.30" fill="#174c8c" stroke="#0a2242" stroke-width="0.6"/>
<path d="M298.50,116.46 L301.10,119.06 M298.50,119.06 L301.10,116.46" stroke="#4a2050" stroke-width="0.75" fill="none"/>
<path d="M300.90,116.46 L303.50,119.06 M300.90,119.06 L303.50,116.46" stroke="#4a2050" stroke-width="0.75" fill="none"/>
<line x1="352.60" y1="117.76" x2="358.20" y2="117.76" stroke="#111" stroke-width="0.95"/>
<path d="M362.50,117.76 L356.90,115.26 L358.20,117.76 L356.90,120.26 Z" fill="#111"/>
<text x="287.00" y="119.52" font-size="4.9" fill="#4a3a5e" stroke="#4a3a5e" stroke-width="0.12">M</text>
<rect x="292.30" y="121.96" width="8.95" height="5.30" fill="#2fa83a" stroke="#15501c" stroke-width="0.6"/>
<rect x="301.25" y="121.96" width="5.00" height="5.30" fill="#f9b916" stroke="#6a4c06" stroke-width="0.6"/>
<rect x="306.25" y="121.96" width="30.15" height="5.30" fill="#acbe8c" stroke="#4e5a3c" stroke-width="0.6"/>
<path d="M299.20,123.31 L301.80,125.91 M299.20,125.91 L301.80,123.31" stroke="#4a2050" stroke-width="0.75" fill="none"/>
<line x1="336.40" y1="124.61" x2="342.20" y2="124.61" stroke="#111" stroke-width="0.95"/>
<path d="M346.50,124.61 L340.90,122.11 L342.20,124.61 L340.90,127.11 Z" fill="#111"/>
<text x="287.00" y="126.37" font-size="4.9" fill="#4a3a5e" stroke="#4a3a5e" stroke-width="0.12">M</text>
<rect x="292.30" y="128.81" width="9.70" height="5.30" fill="#2fa83a" stroke="#15501c" stroke-width="0.6"/>
<rect x="302.00" y="128.81" width="25.50" height="5.30" fill="#f9b916" stroke="#6a4c06" stroke-width="0.6"/>
<rect x="327.50" y="128.81" width="30.70" height="5.30" fill="#e1097f" stroke="#5e0838" stroke-width="0.6"/>
<path d="M300.00,130.16 L302.60,132.76 M300.00,132.76 L302.60,130.16" stroke="#4a2050" stroke-width="0.75" fill="none"/>
<path d="M325.91,132.90 L329.09,132.90 L327.50,129.87 Z" fill="none" stroke="#4a2050" stroke-width="0.6"/>
<line x1="358.20" y1="131.46" x2="363.90" y2="131.46" stroke="#111" stroke-width="0.95"/>
<path d="M368.20,131.46 L362.60,128.96 L363.90,131.46 L362.60,133.96 Z" fill="#111"/>
<text x="287.00" y="133.23" font-size="4.9" fill="#4a3a5e" stroke="#4a3a5e" stroke-width="0.12">M</text>
<rect x="292.30" y="135.67" width="9.70" height="5.30" fill="#2fa83a" stroke="#15501c" stroke-width="0.6"/>
<rect x="302.00" y="135.67" width="46.90" height="5.30" fill="#174c8c" stroke="#0a2242" stroke-width="0.6"/>
<rect x="348.90" y="135.67" width="30.60" height="5.30" fill="#e1097f" stroke="#5e0838" stroke-width="0.6"/>
<path d="M300.20,137.02 L302.80,139.62 M300.20,139.62 L302.80,137.02" stroke="#4a2050" stroke-width="0.75" fill="none"/>
<path d="M347.31,139.75 L350.49,139.75 L348.90,136.73 Z" fill="none" stroke="#4a2050" stroke-width="0.6"/>
<path d="M378.70,137.02 L381.30,139.62 M378.70,139.62 L381.30,137.02" stroke="#5a2a7a" stroke-width="0.9" fill="none"/>
<text x="287.00" y="140.08" font-size="4.9" fill="#4a3a5e" stroke="#4a3a5e" stroke-width="0.12">M</text>
<rect x="292.30" y="142.52" width="10.20" height="5.30" fill="#2fa83a" stroke="#15501c" stroke-width="0.6"/>
<rect x="302.50" y="142.52" width="3.75" height="5.30" fill="#f9b916" stroke="#6a4c06" stroke-width="0.6"/>
<rect x="306.25" y="142.52" width="63.45" height="5.30" fill="#e1097f" stroke="#5e0838" stroke-width="0.6"/>
<path d="M300.50,143.87 L303.10,146.47 M300.50,146.47 L303.10,143.87" stroke="#4a2050" stroke-width="0.75" fill="none"/>
<path d="M304.66,146.60 L307.84,146.60 L306.25,143.58 Z" fill="none" stroke="#4a2050" stroke-width="0.6"/>
<line x1="369.70" y1="145.17" x2="375.30" y2="145.17" stroke="#111" stroke-width="0.95"/>
<path d="M379.60,145.17 L374.00,142.67 L375.30,145.17 L374.00,147.67 Z" fill="#111"/>
<text x="287.00" y="146.94" font-size="4.9" fill="#4a3a5e" stroke="#4a3a5e" stroke-width="0.12">M</text>
<rect x="292.30" y="149.38" width="10.70" height="5.30" fill="#2fa83a" stroke="#15501c" stroke-width="0.6"/>
<rect x="303.00" y="149.38" width="35.80" height="5.30" fill="#f9b916" stroke="#6a4c06" stroke-width="0.6"/>
<rect x="338.80" y="149.38" width="18.90" height="5.30" fill="#e1097f" stroke="#5e0838" stroke-width="0.6"/>
<path d="M300.70,150.73 L303.30,153.33 M300.70,153.33 L303.30,150.73" stroke="#4a2050" stroke-width="0.75" fill="none"/>
<path d="M337.21,153.46 L340.39,153.46 L338.80,150.44 Z" fill="none" stroke="#4a2050" stroke-width="0.6"/>
<line x1="357.70" y1="152.03" x2="363.10" y2="152.03" stroke="#111" stroke-width="0.95"/>
<path d="M367.40,152.03 L361.80,149.53 L363.10,152.03 L361.80,154.53 Z" fill="#111"/>
<text x="287.00" y="153.79" font-size="4.9" fill="#4a3a5e" stroke="#4a3a5e" stroke-width="0.12">H</text>
<rect x="292.30" y="156.23" width="11.70" height="5.30" fill="#2fa83a" stroke="#15501c" stroke-width="0.6"/>
<rect x="304.00" y="156.23" width="26.00" height="5.30" fill="#f9b916" stroke="#6a4c06" stroke-width="0.6"/>
<rect x="330.00" y="156.23" width="91.90" height="5.30" fill="#e1097f" stroke="#5e0838" stroke-width="0.6"/>
<path d="M301.70,157.58 L304.30,160.18 M301.70,160.18 L304.30,157.58" stroke="#4a2050" stroke-width="0.75" fill="none"/>
<path d="M328.41,160.31 L331.59,160.31 L330.00,157.29 Z" fill="none" stroke="#4a2050" stroke-width="0.6"/>
<path d="M421.10,157.58 L423.70,160.18 M421.10,160.18 L423.70,157.58" stroke="#5a2a7a" stroke-width="0.9" fill="none"/>
<text x="287.00" y="160.64" font-size="4.9" fill="#4a3a5e" stroke="#4a3a5e" stroke-width="0.12">M</text>
<rect x="292.30" y="163.08" width="12.20" height="5.30" fill="#2fa83a" stroke="#15501c" stroke-width="0.6"/>
<rect x="304.50" y="163.08" width="79.70" height="5.30" fill="#f9b916" stroke="#6a4c06" stroke-width="0.6"/>
<path d="M302.40,164.43 L305.00,167.03 M302.40,167.03 L305.00,164.43" stroke="#4a2050" stroke-width="0.75" fill="none"/>
<line x1="384.20" y1="165.73" x2="389.90" y2="165.73" stroke="#111" stroke-width="0.95"/>
<path d="M394.20,165.73 L388.60,163.23 L389.90,165.73 L388.60,168.23 Z" fill="#111"/>
<text x="287.00" y="167.50" font-size="4.9" fill="#4a3a5e" stroke="#4a3a5e" stroke-width="0.12">M</text>
<rect x="292.30" y="169.94" width="12.70" height="5.30" fill="#2fa83a" stroke="#15501c" stroke-width="0.6"/>
<rect x="305.00" y="169.94" width="12.50" height="5.30" fill="#f9b916" stroke="#6a4c06" stroke-width="0.6"/>
<rect x="317.50" y="169.94" width="43.20" height="5.30" fill="#e1097f" stroke="#5e0838" stroke-width="0.6"/>
<path d="M302.70,171.29 L305.30,173.89 M302.70,173.89 L305.30,171.29" stroke="#4a2050" stroke-width="0.75" fill="none"/>
<path d="M315.91,174.02 L319.09,174.02 L317.50,171.00 Z" fill="none" stroke="#4a2050" stroke-width="0.6"/>
<path d="M359.90,171.29 L362.50,173.89 M359.90,173.89 L362.50,171.29" stroke="#5a2a7a" stroke-width="0.9" fill="none"/>
<text x="287.00" y="174.35" font-size="4.9" fill="#4a3a5e" stroke="#4a3a5e" stroke-width="0.12">M</text>
<rect x="292.30" y="176.79" width="13.20" height="5.30" fill="#2fa83a" stroke="#15501c" stroke-width="0.6"/>
<rect x="305.50" y="176.79" width="78.70" height="5.30" fill="#f9b916" stroke="#6a4c06" stroke-width="0.6"/>
<path d="M303.20,178.14 L305.80,180.74 M303.20,180.74 L305.80,178.14" stroke="#4a2050" stroke-width="0.75" fill="none"/>
<line x1="384.20" y1="179.44" x2="389.90" y2="179.44" stroke="#111" stroke-width="0.95"/>
<path d="M394.20,179.44 L388.60,176.94 L389.90,179.44 L388.60,181.94 Z" fill="#111"/>
<text x="287.00" y="181.21" font-size="4.9" fill="#4a3a5e" stroke="#4a3a5e" stroke-width="0.12">H</text>
<rect x="292.30" y="183.65" width="13.20" height="5.30" fill="#2fa83a" stroke="#15501c" stroke-width="0.6"/>
<rect x="305.50" y="183.65" width="67.20" height="5.30" fill="#f9b916" stroke="#6a4c06" stroke-width="0.6"/>
<path d="M303.20,185.00 L305.80,187.60 M303.20,187.60 L305.80,185.00" stroke="#4a2050" stroke-width="0.75" fill="none"/>
<line x1="372.70" y1="186.30" x2="378.30" y2="186.30" stroke="#111" stroke-width="0.95"/>
<path d="M382.60,186.30 L377.00,183.80 L378.30,186.30 L377.00,188.80 Z" fill="#111"/>
<text x="287.00" y="188.06" font-size="4.9" fill="#4a3a5e" stroke="#4a3a5e" stroke-width="0.12">M</text>
<text transform="translate(453.20,24.90) scale(1.0000,1)" font-size="6.10" letter-spacing="0.06" fill="#222" stroke="#222" stroke-width="0.1">bar</text>
<rect x="453.60" y="30.30" width="5.60" height="5.60" fill="#d0d0d0" stroke="#4a4a4a" stroke-width="0.8"/>
<text transform="translate(462.40,35.30) scale(1.0000,1)" font-size="6.10" letter-spacing="0.06" fill="#222" stroke="#222" stroke-width="0.1">Awaiting response</text>
<text transform="translate(462.40,42.20) scale(1.0000,1)" font-size="6.10" letter-spacing="0.06" fill="#222" stroke="#222" stroke-width="0.1">to reinfusion</text>
<rect x="453.60" y="48.00" width="5.60" height="5.60" fill="#2fa83a" stroke="#15501c" stroke-width="0.8"/>
<text transform="translate(462.40,53.00) scale(1.0000,1)" font-size="6.10" letter-spacing="0.06" fill="#222" stroke="#222" stroke-width="0.1">CR/BCA</text>
<rect x="453.60" y="57.70" width="5.60" height="5.60" fill="#f9b916" stroke="#6a4c06" stroke-width="0.8"/>
<text transform="translate(462.40,62.70) scale(1.0000,1)" font-size="6.10" letter-spacing="0.06" fill="#222" stroke="#222" stroke-width="0.1">CR/BCR</text>
<rect x="453.60" y="67.70" width="5.60" height="5.60" fill="#174c8c" stroke="#0a2242" stroke-width="0.8"/>
<text transform="translate(462.40,72.70) scale(1.0000,1)" font-size="6.10" letter-spacing="0.06" fill="#222" stroke="#222" stroke-width="0.1">CR/HSCT</text>
<rect x="453.60" y="77.60" width="5.60" height="5.60" fill="#e1097f" stroke="#5e0838" stroke-width="0.8"/>
<text transform="translate(462.40,82.60) scale(1.0000,1)" font-size="6.10" letter-spacing="0.06" fill="#222" stroke="#222" stroke-width="0.1">MRD-level disease</text>
<rect x="453.60" y="87.70" width="5.60" height="5.60" fill="#acbe8c" stroke="#4e5a3c" stroke-width="0.8"/>
<text transform="translate(462.40,92.70) scale(1.0000,1)" font-size="6.10" letter-spacing="0.06" fill="#222" stroke="#222" stroke-width="0.1">CR/alternative</text>
<text transform="translate(462.40,100.50) scale(1.0000,1)" font-size="6.10" letter-spacing="0.06" fill="#222" stroke="#222" stroke-width="0.1">therapy</text>
<rect x="453.60" y="105.20" width="5.60" height="5.60" fill="#e1097f" stroke="#5e0838" stroke-width="0.8"/>
<text transform="translate(462.40,110.20) scale(1.0000,1)" font-size="6.10" letter-spacing="0.06" fill="#222" stroke="#222" stroke-width="0.1">Relapse</text>
<text transform="translate(453.20,123.40) scale(1.0000,1)" font-size="6.10" letter-spacing="0.06" fill="#222" stroke="#222" stroke-width="0.1">event</text>
<circle cx="455.10" cy="131.50" r="1.3" fill="#222"/>
<text transform="translate(459.60,133.70) scale(1.0000,1)" font-size="6.10" letter-spacing="0.06" fill="#222" stroke="#222" stroke-width="0.1">Reinfusion</text>
<path d="M453.00,139.50 L457.20,139.50 L455.10,143.10 Z" fill="none" stroke="#222" stroke-width="1.1" stroke-linejoin="round"/>
<text transform="translate(459.60,143.40) scale(1.0000,1)" font-size="6.10" letter-spacing="0.06" fill="#222" stroke="#222" stroke-width="0.1">CD19− relapse</text>
<path d="M453.00,152.90 L457.20,152.90 L455.10,149.30 Z" fill="none" stroke="#222" stroke-width="1.1" stroke-linejoin="round"/>
<text transform="translate(459.60,153.40) scale(1.0000,1)" font-size="6.10" letter-spacing="0.06" fill="#222" stroke="#222" stroke-width="0.1">CD19+ relapse</text>
<path d="M453.10,161.00 L457.10,161.00 M455.10,159.00 L455.10,163.00" stroke="#222" stroke-width="0.9"/>
<text transform="translate(459.60,163.20) scale(1.0000,1)" font-size="6.10" letter-spacing="0.06" fill="#222" stroke="#222" stroke-width="0.1">CD19+ MRD</text>
<path d="M453.40,169.50 L456.80,172.90 M453.40,172.90 L456.80,169.50" stroke="#222" stroke-width="1.1" fill="none"/>
<text transform="translate(459.60,173.40) scale(1.0000,1)" font-size="6.10" letter-spacing="0.06" fill="#222" stroke="#222" stroke-width="0.1">Died</text>
<text transform="translate(453.20,186.80) scale(1.0000,1)" font-size="6.10" letter-spacing="0.06" fill="#222" stroke="#222" stroke-width="0.1">Continued follow-up</text>
<line x1="453.50" y1="191.50" x2="460.10" y2="191.50" stroke="#111" stroke-width="1.1"/>
<path d="M464.40,191.50 L458.80,188.90 L460.10,191.50 L458.80,194.10 Z" fill="#111"/>
<text x="6.8" y="240.6" font-size="11" font-weight="bold" fill="#0a0a0a" stroke="#0a0a0a" stroke-width="0.5">C</text>
<path d="M32.40,246.90 L32.40,415.20 L167.70,415.20" fill="none" stroke="#111" stroke-width="0.95"/>
<line x1="29.20" y1="252.30" x2="32.40" y2="252.30" stroke="#222" stroke-width="0.9"/>
<text x="26.20" y="254.57" font-size="6.3" text-anchor="end" fill="#333">1</text>
<line x1="29.20" y1="261.53" x2="32.40" y2="261.53" stroke="#222" stroke-width="0.9"/>
<text x="26.20" y="263.80" font-size="6.3" text-anchor="end" fill="#333">2</text>
<line x1="29.20" y1="270.76" x2="32.40" y2="270.76" stroke="#222" stroke-width="0.9"/>
<text x="26.20" y="273.03" font-size="6.3" text-anchor="end" fill="#333">4</text>
<line x1="29.20" y1="279.99" x2="32.40" y2="279.99" stroke="#222" stroke-width="0.9"/>
<text x="26.20" y="282.26" font-size="6.3" text-anchor="end" fill="#333">3</text>
<line x1="29.20" y1="289.22" x2="32.40" y2="289.22" stroke="#222" stroke-width="0.9"/>
<text x="26.20" y="291.49" font-size="6.3" text-anchor="end" fill="#333">5</text>
<line x1="29.20" y1="298.45" x2="32.40" y2="298.45" stroke="#222" stroke-width="0.9"/>
<text x="26.20" y="300.72" font-size="6.3" text-anchor="end" fill="#333">6</text>
<line x1="29.20" y1="307.68" x2="32.40" y2="307.68" stroke="#222" stroke-width="0.9"/>
<text x="26.20" y="309.95" font-size="6.3" text-anchor="end" fill="#333">7</text>
<line x1="29.20" y1="316.91" x2="32.40" y2="316.91" stroke="#222" stroke-width="0.9"/>
<text x="26.20" y="319.18" font-size="6.3" text-anchor="end" fill="#333">8</text>
<line x1="29.20" y1="326.14" x2="32.40" y2="326.14" stroke="#222" stroke-width="0.9"/>
<text x="26.20" y="328.41" font-size="6.3" text-anchor="end" fill="#333">9</text>
<line x1="29.20" y1="335.37" x2="32.40" y2="335.37" stroke="#222" stroke-width="0.9"/>
<text x="26.20" y="337.64" font-size="6.3" text-anchor="end" fill="#333">10</text>
<line x1="29.20" y1="344.60" x2="32.40" y2="344.60" stroke="#222" stroke-width="0.9"/>
<text x="26.20" y="346.87" font-size="6.3" text-anchor="end" fill="#333">11</text>
<line x1="29.20" y1="353.83" x2="32.40" y2="353.83" stroke="#222" stroke-width="0.9"/>
<text x="26.20" y="356.10" font-size="6.3" text-anchor="end" fill="#333">12</text>
<line x1="29.20" y1="363.06" x2="32.40" y2="363.06" stroke="#222" stroke-width="0.9"/>
<text x="26.20" y="365.33" font-size="6.3" text-anchor="end" fill="#333">13</text>
<line x1="29.20" y1="372.29" x2="32.40" y2="372.29" stroke="#222" stroke-width="0.9"/>
<text x="26.20" y="374.56" font-size="6.3" text-anchor="end" fill="#333">14</text>
<line x1="29.20" y1="381.52" x2="32.40" y2="381.52" stroke="#222" stroke-width="0.9"/>
<text x="26.20" y="383.79" font-size="6.3" text-anchor="end" fill="#333">15</text>
<line x1="29.20" y1="390.75" x2="32.40" y2="390.75" stroke="#222" stroke-width="0.9"/>
<text x="26.20" y="393.02" font-size="6.3" text-anchor="end" fill="#333">16</text>
<line x1="29.20" y1="399.98" x2="32.40" y2="399.98" stroke="#222" stroke-width="0.9"/>
<text x="26.20" y="402.25" font-size="6.3" text-anchor="end" fill="#333">17</text>
<line x1="29.20" y1="409.21" x2="32.40" y2="409.21" stroke="#222" stroke-width="0.9"/>
<text x="26.20" y="411.48" font-size="6.3" text-anchor="end" fill="#333">18</text>
<line x1="38.20" y1="415.20" x2="38.20" y2="418.00" stroke="#222" stroke-width="0.9"/>
<text x="38.20" y="426.98" font-size="6.6" text-anchor="middle" fill="#3a3a3a" stroke="#3a3a3a" stroke-width="0.06">0</text>
<line x1="70.45" y1="415.20" x2="70.45" y2="418.00" stroke="#222" stroke-width="0.9"/>
<text x="70.45" y="426.98" font-size="6.6" text-anchor="middle" fill="#3a3a3a" stroke="#3a3a3a" stroke-width="0.06">25</text>
<line x1="102.70" y1="415.20" x2="102.70" y2="418.00" stroke="#222" stroke-width="0.9"/>
<text x="102.70" y="426.98" font-size="6.6" text-anchor="middle" fill="#3a3a3a" stroke="#3a3a3a" stroke-width="0.06">50</text>
<line x1="134.95" y1="415.20" x2="134.95" y2="418.00" stroke="#222" stroke-width="0.9"/>
<text x="134.95" y="426.98" font-size="6.6" text-anchor="middle" fill="#3a3a3a" stroke="#3a3a3a" stroke-width="0.06">75</text>
<text x="51.20" y="438.20" font-size="8.2" fill="#2a2a2a" font-weight="bold" stroke="#2a2a2a" stroke-width="0.05" text-anchor="start" textLength="98" lengthAdjust="spacingAndGlyphs" >Months after initial CD19 CAR infusion</text>
<text x="13.60" y="334.50" font-size="8.2" fill="#2a2a2a" font-weight="bold" stroke="#2a2a2a" stroke-width="0.05" text-anchor="middle" textLength="20.5" lengthAdjust="spacingAndGlyphs" transform="rotate(-90 13.60 334.50)">Study id</text>
<rect x="38.20" y="248.90" width="36.80" height="6.80" fill="#2fa83a" stroke="#15501c" stroke-width="0.7"/>
<rect x="75.00" y="248.90" width="17.50" height="6.80" fill="#e1097f" stroke="#5e0838" stroke-width="0.7"/>
<path d="M40.14,250.94 L42.86,253.66 M40.14,253.66 L42.86,250.94" stroke="#2a1a2a" stroke-width="0.75" fill="none"/>
<path d="M42.64,250.94 L45.36,253.66 M42.64,253.66 L45.36,250.94" stroke="#2a1a2a" stroke-width="0.75" fill="none"/>
<text x="33.50" y="254.17" font-size="5.2" fill="#4a3a5e" stroke="#4a3a5e" stroke-width="0.12">M</text>
<rect x="38.20" y="258.13" width="10.55" height="6.80" fill="#2fa83a" stroke="#15501c" stroke-width="0.7"/>
<rect x="48.75" y="258.13" width="28.25" height="6.80" fill="#f9b916" stroke="#6a4c06" stroke-width="0.7"/>
<rect x="77.00" y="258.13" width="30.80" height="6.80" fill="#e1097f" stroke="#5e0838" stroke-width="0.7"/>
<path d="M40.14,260.17 L42.86,262.89 M40.14,262.89 L42.86,260.17" stroke="#2a1a2a" stroke-width="0.75" fill="none"/>
<path d="M43.14,260.17 L45.86,262.89 M43.14,262.89 L45.86,260.17" stroke="#2a1a2a" stroke-width="0.75" fill="none"/>
<line x1="107.80" y1="261.53" x2="109.30" y2="261.53" stroke="#111" stroke-width="0.95"/>
<path d="M114.50,261.53 L108.60,258.78 L109.30,261.53 L108.60,264.28 Z" fill="#111"/>
<text x="33.50" y="263.40" font-size="5.2" fill="#4a3a5e" stroke="#4a3a5e" stroke-width="0.12">H</text>
<rect x="38.20" y="267.36" width="30.55" height="6.80" fill="#2fa83a" stroke="#15501c" stroke-width="0.7"/>
<rect x="68.75" y="267.36" width="24.25" height="6.80" fill="#f9b916" stroke="#6a4c06" stroke-width="0.7"/>
<path d="M40.14,269.40 L42.86,272.12 M40.14,272.12 L42.86,269.40" stroke="#2a1a2a" stroke-width="0.75" fill="none"/>
<path d="M43.14,269.40 L45.86,272.12 M43.14,272.12 L45.86,269.40" stroke="#2a1a2a" stroke-width="0.75" fill="none"/>
<path d="M60.64,269.40 L63.36,272.12 M60.64,272.12 L63.36,269.40" stroke="#2a1a2a" stroke-width="0.75" fill="none"/>
<line x1="93.00" y1="270.76" x2="94.60" y2="270.76" stroke="#111" stroke-width="0.95"/>
<path d="M99.80,270.76 L93.90,268.01 L94.60,270.76 L93.90,273.51 Z" fill="#111"/>
<text x="33.50" y="272.63" font-size="5.2" fill="#4a3a5e" stroke="#4a3a5e" stroke-width="0.12">V</text>
<rect x="38.20" y="276.59" width="11.80" height="6.80" fill="#2fa83a" stroke="#15501c" stroke-width="0.7"/>
<rect x="50.00" y="276.59" width="42.80" height="6.80" fill="#f9b916" stroke="#6a4c06" stroke-width="0.7"/>
<rect x="40.30" y="277.88" width="2.4" height="4.22" fill="#b4949c" stroke="#3a2a30" stroke-width="0.6"/>
<path d="M40.70,278.38 L42.30,281.60 M40.70,281.60 L42.30,278.38" stroke="#5a3050" stroke-width="0.4"/>
<rect x="43.30" y="277.88" width="2.4" height="4.22" fill="#b4949c" stroke="#3a2a30" stroke-width="0.6"/>
<path d="M43.70,278.38 L45.30,281.60 M43.70,281.60 L45.30,278.38" stroke="#5a3050" stroke-width="0.4"/>
<line x1="92.80" y1="279.99" x2="94.50" y2="279.99" stroke="#111" stroke-width="0.95"/>
<path d="M99.70,279.99 L93.80,277.24 L94.50,279.99 L93.80,282.74 Z" fill="#111"/>
<text x="33.50" y="281.86" font-size="5.2" fill="#4a3a5e" stroke="#4a3a5e" stroke-width="0.12">H</text>
<rect x="38.20" y="285.82" width="6.80" height="6.80" fill="#2fa83a" stroke="#15501c" stroke-width="0.7"/>
<rect x="45.00" y="285.82" width="6.75" height="6.80" fill="#f9b916" stroke="#6a4c06" stroke-width="0.7"/>
<rect x="51.75" y="285.82" width="54.35" height="6.80" fill="#acbe8c" stroke="#4e5a3c" stroke-width="0.7"/>
<path d="M41.64,287.86 L44.36,290.58 M41.64,290.58 L44.36,287.86" stroke="#2a1a2a" stroke-width="0.75" fill="none"/>
<line x1="106.10" y1="289.22" x2="108.10" y2="289.22" stroke="#111" stroke-width="0.95"/>
<path d="M113.30,289.22 L107.40,286.47 L108.10,289.22 L107.40,291.97 Z" fill="#111"/>
<text x="33.50" y="291.09" font-size="5.2" fill="#4a3a5e" stroke="#4a3a5e" stroke-width="0.12">M</text>
<rect x="38.20" y="295.05" width="53.80" height="6.80" fill="#2fa83a" stroke="#15501c" stroke-width="0.7"/>
<path d="M41.64,297.09 L44.36,299.81 M41.64,299.81 L44.36,297.09" stroke="#2a1a2a" stroke-width="0.75" fill="none"/>
<line x1="92.00" y1="298.45" x2="93.55" y2="298.45" stroke="#111" stroke-width="0.95"/>
<path d="M98.75,298.45 L92.85,295.70 L93.55,298.45 L92.85,301.20 Z" fill="#111"/>
<text x="33.50" y="300.32" font-size="5.2" fill="#4a3a5e" stroke="#4a3a5e" stroke-width="0.12">H</text>
<rect x="38.20" y="304.28" width="9.30" height="6.80" fill="#2fa83a" stroke="#15501c" stroke-width="0.7"/>
<rect x="47.50" y="304.28" width="85.00" height="6.80" fill="#f9b916" stroke="#6a4c06" stroke-width="0.7"/>
<rect x="42.80" y="305.57" width="2.4" height="4.22" fill="#b4949c" stroke="#3a2a30" stroke-width="0.6"/>
<path d="M43.20,306.07 L44.80,309.29 M43.20,309.29 L44.80,306.07" stroke="#5a3050" stroke-width="0.4"/>
<line x1="132.50" y1="307.68" x2="133.55" y2="307.68" stroke="#111" stroke-width="0.95"/>
<path d="M138.75,307.68 L132.85,304.93 L133.55,307.68 L132.85,310.43 Z" fill="#111"/>
<text x="33.50" y="309.55" font-size="5.2" fill="#4a3a5e" stroke="#4a3a5e" stroke-width="0.12">M</text>
<rect x="38.20" y="313.51" width="6.80" height="6.80" fill="#2fa83a" stroke="#15501c" stroke-width="0.7"/>
<rect x="45.00" y="313.51" width="70.00" height="6.80" fill="#f9b916" stroke="#6a4c06" stroke-width="0.7"/>
<rect x="115.00" y="313.51" width="32.00" height="6.80" fill="#e1097f" stroke="#5e0838" stroke-width="0.7"/>
<path d="M41.64,315.55 L44.36,318.27 M41.64,318.27 L44.36,315.55" stroke="#2a1a2a" stroke-width="0.75" fill="none"/>
<line x1="147.00" y1="316.91" x2="148.55" y2="316.91" stroke="#111" stroke-width="0.95"/>
<path d="M153.75,316.91 L147.85,314.16 L148.55,316.91 L147.85,319.66 Z" fill="#111"/>
<text x="33.50" y="318.78" font-size="5.2" fill="#4a3a5e" stroke="#4a3a5e" stroke-width="0.12">M</text>
<rect x="38.20" y="322.74" width="96.30" height="6.80" fill="#2fa83a" stroke="#15501c" stroke-width="0.7"/>
<path d="M42.14,324.78 L44.86,327.50 M42.14,327.50 L44.86,324.78" stroke="#2a1a2a" stroke-width="0.75" fill="none"/>
<line x1="134.50" y1="326.14" x2="136.05" y2="326.14" stroke="#111" stroke-width="0.95"/>
<path d="M141.25,326.14 L135.35,323.39 L136.05,326.14 L135.35,328.89 Z" fill="#111"/>
<text x="33.50" y="328.01" font-size="5.2" fill="#4a3a5e" stroke="#4a3a5e" stroke-width="0.12">M</text>
<rect x="38.20" y="331.97" width="26.30" height="6.80" fill="#2fa83a" stroke="#15501c" stroke-width="0.7"/>
<path d="M42.64,334.01 L45.36,336.73 M42.64,336.73 L45.36,334.01" stroke="#2a1a2a" stroke-width="0.75" fill="none"/>
<line x1="64.50" y1="335.37" x2="66.05" y2="335.37" stroke="#111" stroke-width="0.95"/>
<path d="M71.25,335.37 L65.35,332.62 L66.05,335.37 L65.35,338.12 Z" fill="#111"/>
<text x="33.50" y="337.24" font-size="5.2" fill="#4a3a5e" stroke="#4a3a5e" stroke-width="0.12">M</text>
<rect x="38.20" y="341.20" width="50.55" height="6.80" fill="#2fa83a" stroke="#15501c" stroke-width="0.7"/>
<path d="M42.64,343.24 L45.36,345.96 M42.64,345.96 L45.36,343.24" stroke="#2a1a2a" stroke-width="0.75" fill="none"/>
<line x1="88.75" y1="344.60" x2="90.30" y2="344.60" stroke="#111" stroke-width="0.95"/>
<path d="M95.50,344.60 L89.60,341.85 L90.30,344.60 L89.60,347.35 Z" fill="#111"/>
<text x="33.50" y="346.47" font-size="5.2" fill="#4a3a5e" stroke="#4a3a5e" stroke-width="0.12">H</text>
<rect x="38.20" y="350.43" width="39.80" height="6.80" fill="#2fa83a" stroke="#15501c" stroke-width="0.7"/>
<rect x="78.00" y="350.43" width="8.25" height="6.80" fill="#e1097f" stroke="#5e0838" stroke-width="0.7"/>
<path d="M43.14,352.47 L45.86,355.19 M43.14,355.19 L45.86,352.47" stroke="#2a1a2a" stroke-width="0.75" fill="none"/>
<line x1="86.25" y1="353.83" x2="87.80" y2="353.83" stroke="#111" stroke-width="0.95"/>
<path d="M93.00,353.83 L87.10,351.08 L87.80,353.83 L87.10,356.58 Z" fill="#111"/>
<text x="33.50" y="355.70" font-size="5.2" fill="#4a3a5e" stroke="#4a3a5e" stroke-width="0.12">H</text>
<rect x="38.20" y="359.66" width="55.55" height="6.80" fill="#2fa83a" stroke="#15501c" stroke-width="0.7"/>
<path d="M42.14,361.70 L44.86,364.42 M42.14,364.42 L44.86,361.70" stroke="#2a1a2a" stroke-width="0.75" fill="none"/>
<line x1="93.75" y1="363.06" x2="95.30" y2="363.06" stroke="#111" stroke-width="0.95"/>
<path d="M100.50,363.06 L94.60,360.31 L95.30,363.06 L94.60,365.81 Z" fill="#111"/>
<text x="33.50" y="364.93" font-size="5.2" fill="#4a3a5e" stroke="#4a3a5e" stroke-width="0.12">M</text>
<rect x="38.20" y="368.89" width="11.80" height="6.80" fill="#2fa83a" stroke="#15501c" stroke-width="0.7"/>
<rect x="50.00" y="368.89" width="107.00" height="6.80" fill="#e1097f" stroke="#5e0838" stroke-width="0.7"/>
<rect x="45.30" y="370.18" width="2.4" height="4.22" fill="#b4949c" stroke="#3a2a30" stroke-width="0.6"/>
<path d="M45.70,370.68 L47.30,373.90 M45.70,373.90 L47.30,370.68" stroke="#5a3050" stroke-width="0.4"/>
<line x1="157.00" y1="372.29" x2="158.55" y2="372.29" stroke="#111" stroke-width="0.95"/>
<path d="M163.75,372.29 L157.85,369.54 L158.55,372.29 L157.85,375.04 Z" fill="#111"/>
<text x="33.50" y="374.16" font-size="5.2" fill="#4a3a5e" stroke="#4a3a5e" stroke-width="0.12">M</text>
<rect x="38.20" y="378.12" width="11.80" height="6.80" fill="#2fa83a" stroke="#15501c" stroke-width="0.7"/>
<rect x="50.00" y="378.12" width="56.25" height="6.80" fill="#f9b916" stroke="#6a4c06" stroke-width="0.7"/>
<rect x="45.30" y="379.41" width="2.4" height="4.22" fill="#b4949c" stroke="#3a2a30" stroke-width="0.6"/>
<path d="M45.70,379.91 L47.30,383.13 M45.70,383.13 L47.30,379.91" stroke="#5a3050" stroke-width="0.4"/>
<line x1="106.25" y1="381.52" x2="107.80" y2="381.52" stroke="#111" stroke-width="0.95"/>
<path d="M113.00,381.52 L107.10,378.77 L107.80,381.52 L107.10,384.27 Z" fill="#111"/>
<text x="33.50" y="383.39" font-size="5.2" fill="#4a3a5e" stroke="#4a3a5e" stroke-width="0.12">H</text>
<rect x="38.20" y="387.35" width="117.30" height="6.80" fill="#2fa83a" stroke="#15501c" stroke-width="0.7"/>
<rect x="45.30" y="388.64" width="2.4" height="4.22" fill="#b4949c" stroke="#3a2a30" stroke-width="0.6"/>
<path d="M45.70,389.14 L47.30,392.36 M45.70,392.36 L47.30,389.14" stroke="#5a3050" stroke-width="0.4"/>
<line x1="155.50" y1="390.75" x2="157.30" y2="390.75" stroke="#111" stroke-width="0.95"/>
<path d="M162.50,390.75 L156.60,388.00 L157.30,390.75 L156.60,393.50 Z" fill="#111"/>
<text x="33.50" y="392.62" font-size="5.2" fill="#4a3a5e" stroke="#4a3a5e" stroke-width="0.12">M</text>
<rect x="38.20" y="396.58" width="15.55" height="6.80" fill="#2fa83a" stroke="#15501c" stroke-width="0.7"/>
<rect x="53.75" y="396.58" width="48.25" height="6.80" fill="#e1097f" stroke="#5e0838" stroke-width="0.7"/>
<rect x="46.30" y="397.87" width="2.4" height="4.22" fill="#b4949c" stroke="#3a2a30" stroke-width="0.6"/>
<path d="M46.70,398.37 L48.30,401.59 M46.70,401.59 L48.30,398.37" stroke="#5a3050" stroke-width="0.4"/>
<line x1="102.00" y1="399.98" x2="103.55" y2="399.98" stroke="#111" stroke-width="0.95"/>
<path d="M108.75,399.98 L102.85,397.23 L103.55,399.98 L102.85,402.73 Z" fill="#111"/>
<text x="33.50" y="401.85" font-size="5.2" fill="#4a3a5e" stroke="#4a3a5e" stroke-width="0.12">V</text>
<rect x="38.20" y="405.81" width="111.40" height="6.80" fill="#2fa83a" stroke="#15501c" stroke-width="0.7"/>
<rect x="47.80" y="407.10" width="2.4" height="4.22" fill="#b4949c" stroke="#3a2a30" stroke-width="0.6"/>
<path d="M48.20,407.60 L49.80,410.82 M48.20,410.82 L49.80,407.60" stroke="#5a3050" stroke-width="0.4"/>
<circle cx="139.00" cy="409.21" r="1.3" fill="none" stroke="#3a5a3a" stroke-width="0.6"/>
<line x1="149.60" y1="409.21" x2="152.10" y2="409.21" stroke="#111" stroke-width="0.95"/>
<path d="M157.30,409.21 L151.40,406.46 L152.10,409.21 L151.40,411.96 Z" fill="#111"/>
<text x="33.50" y="411.08" font-size="5.2" fill="#4a3a5e" stroke="#4a3a5e" stroke-width="0.12">V</text>
<text transform="translate(177.50,252.70) scale(1.0000,1)" font-size="6.10" letter-spacing="0.06" fill="#222" stroke="#222" stroke-width="0.1">bar</text>
<rect x="177.90" y="257.20" width="5.60" height="5.60" fill="#d0d0d0" stroke="#4a4a4a" stroke-width="0.8"/>
<text transform="translate(186.70,262.20) scale(1.0000,1)" font-size="6.10" letter-spacing="0.06" fill="#222" stroke="#222" stroke-width="0.1">Awaiting response</text>
<text transform="translate(186.70,269.70) scale(1.0000,1)" font-size="6.10" letter-spacing="0.06" fill="#222" stroke="#222" stroke-width="0.1">to reinfusion</text>
<rect x="177.90" y="275.20" width="5.60" height="5.60" fill="#2fa83a" stroke="#15501c" stroke-width="0.8"/>
<text transform="translate(186.70,280.20) scale(1.0000,1)" font-size="6.10" letter-spacing="0.06" fill="#222" stroke="#222" stroke-width="0.1">CR/BCA</text>
<rect x="177.90" y="284.80" width="5.60" height="5.60" fill="#f9b916" stroke="#6a4c06" stroke-width="0.8"/>
<text transform="translate(186.70,289.80) scale(1.0000,1)" font-size="6.10" letter-spacing="0.06" fill="#222" stroke="#222" stroke-width="0.1">CR/BCR</text>
<rect x="177.90" y="295.20" width="5.60" height="5.60" fill="#acbe8c" stroke="#4e5a3c" stroke-width="0.8"/>
<text transform="translate(186.70,300.20) scale(1.0000,1)" font-size="6.10" letter-spacing="0.06" fill="#222" stroke="#222" stroke-width="0.1">CR/alternative</text>
<text transform="translate(186.70,307.70) scale(1.0000,1)" font-size="6.10" letter-spacing="0.06" fill="#222" stroke="#222" stroke-width="0.1">therapy</text>
<rect x="177.90" y="312.70" width="5.60" height="5.60" fill="#e1097f" stroke="#5e0838" stroke-width="0.8"/>
<text transform="translate(186.70,317.70) scale(1.0000,1)" font-size="6.10" letter-spacing="0.06" fill="#222" stroke="#222" stroke-width="0.1">Relapse</text>
<text transform="translate(177.50,330.80) scale(1.0000,1)" font-size="6.10" letter-spacing="0.06" fill="#222" stroke="#222" stroke-width="0.1">event</text>
<circle cx="179.40" cy="338.70" r="1.3" fill="#222"/>
<text transform="translate(183.90,340.90) scale(1.0000,1)" font-size="6.10" letter-spacing="0.06" fill="#222" stroke="#222" stroke-width="0.1">Reinfusion</text>
<path d="M177.30,347.00 L181.50,347.00 L179.40,350.60 Z" fill="none" stroke="#222" stroke-width="1.1" stroke-linejoin="round"/>
<text transform="translate(183.90,350.90) scale(1.0000,1)" font-size="6.10" letter-spacing="0.06" fill="#222" stroke="#222" stroke-width="0.1">CD19− relapse</text>
<path d="M177.30,360.40 L181.50,360.40 L179.40,356.80 Z" fill="none" stroke="#4a2a6a" stroke-width="1.1" stroke-linejoin="round"/>
<text transform="translate(183.90,360.90) scale(1.0000,1)" font-size="6.10" letter-spacing="0.06" fill="#222" stroke="#222" stroke-width="0.1">CD19+ relapse</text>
<circle cx="179.40" cy="368.70" r="1.4" fill="none" stroke="#222" stroke-width="1.1"/>
<text transform="translate(183.90,370.90) scale(1.0000,1)" font-size="6.10" letter-spacing="0.06" fill="#222" stroke="#222" stroke-width="0.1">Stem cell boost</text>
<path d="M179.40,377.40 L181.20,379.20 L179.40,381.00 L177.60,379.20 Z" fill="none" stroke="#222" stroke-width="1.1"/>
<text transform="translate(183.90,381.40) scale(1.0000,1)" font-size="6.10" letter-spacing="0.06" fill="#222" stroke="#222" stroke-width="0.1">Subsequent malignant</text>
<text transform="translate(183.90,388.90) scale(1.0000,1)" font-size="6.10" letter-spacing="0.06" fill="#222" stroke="#222" stroke-width="0.1">neoplasm</text>
<path d="M177.70,394.60 L181.10,398.00 M177.70,398.00 L181.10,394.60" stroke="#3a2a4a" stroke-width="1.1" fill="none"/>
<text transform="translate(183.90,398.50) scale(1.0000,1)" font-size="6.10" letter-spacing="0.06" fill="#222" stroke="#222" stroke-width="0.1">Died</text>
<text transform="translate(177.50,410.90) scale(1.0000,1)" font-size="6.10" letter-spacing="0.06" fill="#222" stroke="#222" stroke-width="0.1">Continued follow-up</text>
<line x1="177.80" y1="415.00" x2="184.40" y2="415.00" stroke="#111" stroke-width="1.1"/>
<path d="M188.70,415.00 L183.10,412.40 L184.40,415.00 L183.10,417.60 Z" fill="#111"/>
<text x="259.6" y="240.6" font-size="11" font-weight="bold" fill="#0a0a0a" stroke="#0a0a0a" stroke-width="0.5">D</text>
<path d="M284.80,247.50 L284.80,414.90 L426.60,414.90" fill="none" stroke="#555" stroke-width="1.0"/>
<line x1="281.60" y1="266.50" x2="284.80" y2="266.50" stroke="#222" stroke-width="0.9"/>
<text x="278.60" y="268.77" font-size="6.3" text-anchor="end" fill="#333">1</text>
<line x1="281.60" y1="298.85" x2="284.80" y2="298.85" stroke="#222" stroke-width="0.9"/>
<text x="278.60" y="301.12" font-size="6.3" text-anchor="end" fill="#333">2</text>
<line x1="281.60" y1="331.20" x2="284.80" y2="331.20" stroke="#222" stroke-width="0.9"/>
<text x="278.60" y="333.47" font-size="6.3" text-anchor="end" fill="#333">3</text>
<line x1="281.60" y1="363.55" x2="284.80" y2="363.55" stroke="#222" stroke-width="0.9"/>
<text x="278.60" y="365.82" font-size="6.3" text-anchor="end" fill="#333">4</text>
<line x1="281.60" y1="395.90" x2="284.80" y2="395.90" stroke="#222" stroke-width="0.9"/>
<text x="278.60" y="398.17" font-size="6.3" text-anchor="end" fill="#333">5</text>
<line x1="291.30" y1="414.90" x2="291.30" y2="417.70" stroke="#222" stroke-width="0.9"/>
<text x="291.30" y="426.88" font-size="6.6" text-anchor="middle" fill="#3a3a3a" stroke="#3a3a3a" stroke-width="0.06">0</text>
<line x1="323.30" y1="414.90" x2="323.30" y2="417.70" stroke="#222" stroke-width="0.9"/>
<text x="323.30" y="426.88" font-size="6.6" text-anchor="middle" fill="#3a3a3a" stroke="#3a3a3a" stroke-width="0.06">20</text>
<line x1="355.30" y1="414.90" x2="355.30" y2="417.70" stroke="#222" stroke-width="0.9"/>
<text x="355.30" y="426.88" font-size="6.6" text-anchor="middle" fill="#3a3a3a" stroke="#3a3a3a" stroke-width="0.06">40</text>
<line x1="387.30" y1="414.90" x2="387.30" y2="417.70" stroke="#222" stroke-width="0.9"/>
<text x="387.30" y="426.88" font-size="6.6" text-anchor="middle" fill="#3a3a3a" stroke="#3a3a3a" stroke-width="0.06">60</text>
<line x1="419.30" y1="414.90" x2="419.30" y2="417.70" stroke="#222" stroke-width="0.9"/>
<text x="419.30" y="426.88" font-size="6.6" text-anchor="middle" fill="#3a3a3a" stroke="#3a3a3a" stroke-width="0.06">80</text>
<text x="306.30" y="438.20" font-size="8.2" fill="#2a2a2a" font-weight="bold" stroke="#2a2a2a" stroke-width="0.05" text-anchor="start" textLength="98" lengthAdjust="spacingAndGlyphs" >Months after initial CD19 CAR infusion</text>
<text x="266.40" y="331.30" font-size="8.2" fill="#2a2a2a" font-weight="bold" stroke="#2a2a2a" stroke-width="0.05" text-anchor="middle" textLength="20.5" lengthAdjust="spacingAndGlyphs" transform="rotate(-90 266.40 331.30)">Study id</text>
<rect x="291.20" y="262.25" width="3.00" height="8.50" fill="#2fa83a" stroke="#15501c" stroke-width="0.7"/>
<rect x="294.20" y="262.25" width="4.30" height="8.50" fill="#f9b916" stroke="#6a4c06" stroke-width="0.7"/>
<rect x="298.50" y="262.25" width="2.70" height="8.50" fill="#acbe8c" stroke="#4e5a3c" stroke-width="0.7"/>
<rect x="301.20" y="262.25" width="48.30" height="8.50" fill="#174c8c" stroke="#0a2242" stroke-width="0.7"/>
<path d="M292.00,265.00 L295.00,268.00 M292.00,268.00 L295.00,265.00" stroke="#2a1a2a" stroke-width="0.75" fill="none"/>
<path d="M294.00,265.00 L297.00,268.00 M294.00,268.00 L297.00,265.00" stroke="#2a1a2a" stroke-width="0.75" fill="none"/>
<line x1="349.50" y1="266.50" x2="352.80" y2="266.50" stroke="#111" stroke-width="1.0"/>
<path d="M357.50,266.50 L351.50,263.80 L352.80,266.50 L351.50,269.20 Z" fill="#111"/>
<text x="286.20" y="268.37" font-size="5.2" fill="#4a3a5e" stroke="#4a3a5e" stroke-width="0.12">V</text>
<rect x="291.20" y="294.60" width="4.30" height="8.50" fill="#2fa83a" stroke="#15501c" stroke-width="0.7"/>
<rect x="295.50" y="294.60" width="5.30" height="8.50" fill="#f9b916" stroke="#6a4c06" stroke-width="0.7"/>
<rect x="300.80" y="294.60" width="4.60" height="8.50" fill="#acbe8c" stroke="#4e5a3c" stroke-width="0.7"/>
<rect x="305.40" y="294.60" width="110.40" height="8.50" fill="#e1097f" stroke="#5e0838" stroke-width="0.7"/>
<path d="M293.00,297.35 L296.00,300.35 M293.00,300.35 L296.00,297.35" stroke="#2a1a2a" stroke-width="0.75" fill="none"/>
<path d="M301.50,297.35 L304.50,300.35 M301.50,300.35 L304.50,297.35" stroke="#2a1a2a" stroke-width="0.75" fill="none"/>
<line x1="415.80" y1="298.85" x2="419.70" y2="298.85" stroke="#111" stroke-width="1.0"/>
<path d="M424.40,298.85 L418.40,296.15 L419.70,298.85 L418.40,301.55 Z" fill="#111"/>
<text x="286.20" y="300.72" font-size="5.2" fill="#4a3a5e" stroke="#4a3a5e" stroke-width="0.12">V</text>
<rect x="291.20" y="326.95" width="6.30" height="8.50" fill="#2fa83a" stroke="#15501c" stroke-width="0.7"/>
<rect x="297.50" y="326.95" width="12.50" height="8.50" fill="#f9b916" stroke="#6a4c06" stroke-width="0.7"/>
<rect x="310.00" y="326.95" width="82.90" height="8.50" fill="#e1097f" stroke="#5e0838" stroke-width="0.7"/>
<path d="M293.50,329.70 L296.50,332.70 M293.50,332.70 L296.50,329.70" stroke="#2a1a2a" stroke-width="0.75" fill="none"/>
<path d="M308.50,329.70 L311.50,332.70 M308.50,332.70 L311.50,329.70" stroke="#2a1a2a" stroke-width="0.75" fill="none"/>
<line x1="392.90" y1="331.20" x2="396.80" y2="331.20" stroke="#111" stroke-width="1.0"/>
<path d="M401.50,331.20 L395.50,328.50 L396.80,331.20 L395.50,333.90 Z" fill="#111"/>
<text x="286.20" y="333.07" font-size="5.2" fill="#4a3a5e" stroke="#4a3a5e" stroke-width="0.12">H</text>
<rect x="291.20" y="359.30" width="5.00" height="8.50" fill="#2fa83a" stroke="#15501c" stroke-width="0.7"/>
<rect x="296.20" y="359.30" width="5.00" height="8.50" fill="#f9b916" stroke="#6a4c06" stroke-width="0.7"/>
<rect x="301.20" y="359.30" width="55.00" height="8.50" fill="#f9b916" stroke="#6a4c06" stroke-width="0.7"/>
<rect x="296.30" y="361.35" width="2.4" height="4.40" fill="#b4949c" stroke="#3a2a30" stroke-width="0.6"/>
<path d="M296.70,361.85 L298.30,365.25 M296.70,365.25 L298.30,361.85" stroke="#5a3050" stroke-width="0.4"/>
<rect x="298.80" y="361.35" width="2.4" height="4.40" fill="#b4949c" stroke="#3a2a30" stroke-width="0.6"/>
<path d="M299.20,361.85 L300.80,365.25 M299.20,365.25 L300.80,361.85" stroke="#5a3050" stroke-width="0.4"/>
<line x1="356.20" y1="363.55" x2="360.30" y2="363.55" stroke="#111" stroke-width="1.0"/>
<path d="M365.00,363.55 L359.00,360.85 L360.30,363.55 L359.00,366.25 Z" fill="#111"/>
<text x="286.20" y="365.42" font-size="5.2" fill="#4a3a5e" stroke="#4a3a5e" stroke-width="0.12">V</text>
<rect x="291.20" y="391.65" width="6.30" height="8.50" fill="#2fa83a" stroke="#15501c" stroke-width="0.7"/>
<rect x="297.50" y="391.65" width="5.00" height="8.50" fill="#e1097f" stroke="#5e0838" stroke-width="0.7"/>
<path d="M294.50,394.40 L297.50,397.40 M294.50,397.40 L297.50,394.40" stroke="#2a1a2a" stroke-width="0.75" fill="none"/>
<path d="M302.10,394.50 L304.90,397.30 M302.10,397.30 L304.90,394.50" stroke="#5a2a7a" stroke-width="0.9" fill="none"/>
<text x="286.20" y="397.77" font-size="5.2" fill="#4a3a5e" stroke="#4a3a5e" stroke-width="0.12">V</text>
<text transform="translate(453.20,253.00) scale(1.0000,1)" font-size="6.10" letter-spacing="0.06" fill="#222" stroke="#222" stroke-width="0.1">bar</text>
<rect x="453.60" y="257.90" width="5.60" height="5.60" fill="#d0d0d0" stroke="#4a4a4a" stroke-width="0.8"/>
<text transform="translate(462.40,262.90) scale(1.0000,1)" font-size="6.10" letter-spacing="0.06" fill="#222" stroke="#222" stroke-width="0.1">Awaiting response</text>
<text transform="translate(462.40,270.50) scale(1.0000,1)" font-size="6.10" letter-spacing="0.06" fill="#222" stroke="#222" stroke-width="0.1">to reinfusion</text>
<rect x="453.60" y="275.40" width="5.60" height="5.60" fill="#2fa83a" stroke="#15501c" stroke-width="0.8"/>
<text transform="translate(462.40,280.40) scale(1.0000,1)" font-size="6.10" letter-spacing="0.06" fill="#222" stroke="#222" stroke-width="0.1">CR/BCA</text>
<rect x="453.60" y="285.50" width="5.60" height="5.60" fill="#f9b916" stroke="#6a4c06" stroke-width="0.8"/>
<text transform="translate(462.40,290.50) scale(1.0000,1)" font-size="6.10" letter-spacing="0.06" fill="#222" stroke="#222" stroke-width="0.1">CR/BCR</text>
<rect x="453.60" y="295.20" width="5.60" height="5.60" fill="#174c8c" stroke="#0a2242" stroke-width="0.8"/>
<text transform="translate(462.40,300.20) scale(1.0000,1)" font-size="6.10" letter-spacing="0.06" fill="#222" stroke="#222" stroke-width="0.1">CR/HSCT</text>
<rect x="453.60" y="305.30" width="5.60" height="5.60" fill="#acbe8c" stroke="#4e5a3c" stroke-width="0.8"/>
<text transform="translate(462.40,310.30) scale(1.0000,1)" font-size="6.10" letter-spacing="0.06" fill="#222" stroke="#222" stroke-width="0.1">CR/alternative</text>
<text transform="translate(462.40,318.10) scale(1.0000,1)" font-size="6.10" letter-spacing="0.06" fill="#222" stroke="#222" stroke-width="0.1">therapy</text>
<rect x="453.60" y="323.40" width="5.60" height="5.60" fill="#e1097f" stroke="#5e0838" stroke-width="0.8"/>
<text transform="translate(462.40,328.40) scale(1.0000,1)" font-size="6.10" letter-spacing="0.06" fill="#222" stroke="#222" stroke-width="0.1">Relapse</text>
<text transform="translate(453.20,341.40) scale(1.0000,1)" font-size="6.10" letter-spacing="0.06" fill="#222" stroke="#222" stroke-width="0.1">event</text>
<circle cx="455.10" cy="348.80" r="1.3" fill="#4a2a6a"/>
<text transform="translate(459.60,351.00) scale(1.0000,1)" font-size="6.10" letter-spacing="0.06" fill="#222" stroke="#222" stroke-width="0.1">Reinfusion</text>
<path d="M453.00,360.50 L457.20,360.50 L455.10,356.90 Z" fill="none" stroke="#4a2a6a" stroke-width="1.1" stroke-linejoin="round"/>
<text transform="translate(459.60,361.00) scale(1.0000,1)" font-size="6.10" letter-spacing="0.06" fill="#222" stroke="#222" stroke-width="0.1">CD19+ relapse</text>
<path d="M453.40,367.30 L456.80,370.70 M453.40,370.70 L456.80,367.30" stroke="#4a2a6a" stroke-width="1.1" fill="none"/>
<text transform="translate(459.60,371.20) scale(1.0000,1)" font-size="6.10" letter-spacing="0.06" fill="#222" stroke="#222" stroke-width="0.1">Died</text>
<text transform="translate(453.20,404.90) scale(1.0000,1)" font-size="6.10" letter-spacing="0.06" fill="#222" stroke="#222" stroke-width="0.1">Continued follow-up</text>
<line x1="453.50" y1="409.70" x2="460.10" y2="409.70" stroke="#111" stroke-width="1.1"/>
<path d="M464.40,409.70 L458.80,407.10 L460.10,409.70 L458.80,412.30 Z" fill="#111"/>
<text x="130.9" y="465.7" font-size="9.6" font-weight="bold" fill="#111" stroke="#111" stroke-width="0.3">E</text>
<path d="M157.00,471.30 L157.00,643.50 L322.50,643.50" fill="none" stroke="#111" stroke-width="0.95"/>
<line x1="154.00" y1="481.60" x2="157.00" y2="481.60" stroke="#222" stroke-width="0.9"/>
<text x="151.00" y="483.87" font-size="6.3" text-anchor="end" fill="#333">10</text>
<line x1="154.00" y1="498.54" x2="157.00" y2="498.54" stroke="#222" stroke-width="0.9"/>
<text x="151.00" y="500.81" font-size="6.3" text-anchor="end" fill="#333">9</text>
<line x1="154.00" y1="515.48" x2="157.00" y2="515.48" stroke="#222" stroke-width="0.9"/>
<text x="151.00" y="517.75" font-size="6.3" text-anchor="end" fill="#333">8</text>
<line x1="154.00" y1="532.42" x2="157.00" y2="532.42" stroke="#222" stroke-width="0.9"/>
<text x="151.00" y="534.69" font-size="6.3" text-anchor="end" fill="#333">7</text>
<line x1="154.00" y1="549.36" x2="157.00" y2="549.36" stroke="#222" stroke-width="0.9"/>
<text x="151.00" y="551.63" font-size="6.3" text-anchor="end" fill="#333">6</text>
<line x1="154.00" y1="566.30" x2="157.00" y2="566.30" stroke="#222" stroke-width="0.9"/>
<text x="151.00" y="568.57" font-size="6.3" text-anchor="end" fill="#333">5</text>
<line x1="154.00" y1="583.24" x2="157.00" y2="583.24" stroke="#222" stroke-width="0.9"/>
<text x="151.00" y="585.51" font-size="6.3" text-anchor="end" fill="#333">4</text>
<line x1="154.00" y1="600.18" x2="157.00" y2="600.18" stroke="#222" stroke-width="0.9"/>
<text x="151.00" y="602.45" font-size="6.3" text-anchor="end" fill="#333">3</text>
<line x1="154.00" y1="617.12" x2="157.00" y2="617.12" stroke="#222" stroke-width="0.9"/>
<text x="151.00" y="619.39" font-size="6.3" text-anchor="end" fill="#333">2</text>
<line x1="154.00" y1="634.06" x2="157.00" y2="634.06" stroke="#222" stroke-width="0.9"/>
<text x="151.00" y="636.33" font-size="6.3" text-anchor="end" fill="#333">1</text>
<line x1="164.60" y1="643.50" x2="164.60" y2="646.30" stroke="#222" stroke-width="0.9"/>
<text x="164.60" y="655.68" font-size="6.6" text-anchor="middle" fill="#3a3a3a" stroke="#3a3a3a" stroke-width="0.06">0</text>
<line x1="193.45" y1="643.50" x2="193.45" y2="646.30" stroke="#222" stroke-width="0.9"/>
<text x="193.45" y="655.68" font-size="6.6" text-anchor="middle" fill="#3a3a3a" stroke="#3a3a3a" stroke-width="0.06">10</text>
<line x1="222.30" y1="643.50" x2="222.30" y2="646.30" stroke="#222" stroke-width="0.9"/>
<text x="222.30" y="655.68" font-size="6.6" text-anchor="middle" fill="#3a3a3a" stroke="#3a3a3a" stroke-width="0.06">20</text>
<line x1="251.15" y1="643.50" x2="251.15" y2="646.30" stroke="#222" stroke-width="0.9"/>
<text x="251.15" y="655.68" font-size="6.6" text-anchor="middle" fill="#3a3a3a" stroke="#3a3a3a" stroke-width="0.06">30</text>
<line x1="280.00" y1="643.50" x2="280.00" y2="646.30" stroke="#222" stroke-width="0.9"/>
<text x="280.00" y="655.68" font-size="6.6" text-anchor="middle" fill="#3a3a3a" stroke="#3a3a3a" stroke-width="0.06">40</text>
<line x1="308.85" y1="643.50" x2="308.85" y2="646.30" stroke="#222" stroke-width="0.9"/>
<text x="308.85" y="655.68" font-size="6.6" text-anchor="middle" fill="#3a3a3a" stroke="#3a3a3a" stroke-width="0.06">50</text>
<text x="210.10" y="667.40" font-size="8.2" fill="#2a2a2a" font-weight="bold" stroke="#2a2a2a" stroke-width="0.05" text-anchor="start" textLength="59.5" lengthAdjust="spacingAndGlyphs" >Months after reinfusion</text>
<text x="138.00" y="556.60" font-size="8.2" fill="#2a2a2a" font-weight="bold" stroke="#2a2a2a" stroke-width="0.05" text-anchor="middle" textLength="21" lengthAdjust="spacingAndGlyphs" transform="rotate(-90 138.00 556.60)">Study id</text>
<line x1="157" y1="557.7" x2="323" y2="557.7" stroke="#222" stroke-width="1"/>
<text x="271.60" y="531.80" font-size="6.6" text-anchor="middle" fill="#333" stroke="#333" stroke-width="0.17" >CR</text>
<text x="272.70" y="591.70" font-size="6.6" text-anchor="middle" fill="#333" stroke="#333" stroke-width="0.17" >NR</text>
<rect x="164.40" y="474.95" width="2.60" height="13.30" fill="#d0d0d0" stroke="#4a4a4a" stroke-width="0.8"/>
<rect x="167.00" y="474.95" width="5.50" height="13.30" fill="#2fa83a" stroke="#15501c" stroke-width="0.8"/>
<rect x="172.50" y="474.95" width="128.40" height="13.30" fill="#e1097f" stroke="#5e0838" stroke-width="0.8"/>
<circle cx="173.5" cy="481.60" r="1.3" fill="#4a2a6a"/>
<circle cx="182" cy="481.60" r="1.3" fill="#4a2a6a"/>
<line x1="300.90" y1="481.60" x2="310.10" y2="481.60" stroke="#111" stroke-width="1.0"/>
<path d="M315.40,481.60 L308.80,478.70 L310.10,481.60 L308.80,484.50 Z" fill="#111"/>
<rect x="164.40" y="491.89" width="3.10" height="13.30" fill="#d0d0d0" stroke="#4a4a4a" stroke-width="0.8"/>
<rect x="167.50" y="491.89" width="32.20" height="13.30" fill="#2fa83a" stroke="#15501c" stroke-width="0.8"/>
<rect x="199.70" y="491.89" width="74.80" height="13.30" fill="#e1097f" stroke="#5e0838" stroke-width="0.8"/>
<path d="M198.40,497.14 L201.60,497.14 L200.00,500.04 Z" fill="none" stroke="#5a3a7a" stroke-width="0.6"/>
<line x1="274.50" y1="498.54" x2="283.90" y2="498.54" stroke="#111" stroke-width="1.0"/>
<path d="M289.20,498.54 L282.60,495.64 L283.90,498.54 L282.60,501.44 Z" fill="#111"/>
<rect x="164.40" y="508.83" width="2.60" height="13.30" fill="#d0d0d0" stroke="#4a4a4a" stroke-width="0.8"/>
<rect x="167.00" y="508.83" width="2.20" height="13.30" fill="#2fa83a" stroke="#15501c" stroke-width="0.8"/>
<rect x="169.20" y="508.83" width="12.70" height="13.30" fill="#174c8c" stroke="#0a2242" stroke-width="0.8"/>
<rect x="181.90" y="508.83" width="52.00" height="13.30" fill="#e1097f" stroke="#5e0838" stroke-width="0.8"/>
<rect x="167.20" y="514.18" width="2.6" height="2.6" fill="none" stroke="#5a3a7a" stroke-width="0.6"/>
<path d="M175.40,514.08 L178.60,514.08 L177.00,516.98 Z" fill="none" stroke="#5a3a7a" stroke-width="0.6"/>
<path d="M232.80,513.78 L236.20,517.18 M232.80,517.18 L236.20,513.78" stroke="#4a2a6a" stroke-width="0.95" fill="none"/>
<rect x="164.40" y="525.77" width="2.60" height="13.30" fill="#d0d0d0" stroke="#4a4a4a" stroke-width="0.8"/>
<rect x="167.00" y="525.77" width="48.80" height="13.30" fill="#2fa83a" stroke="#15501c" stroke-width="0.8"/>
<line x1="215.80" y1="532.42" x2="224.50" y2="532.42" stroke="#111" stroke-width="1.0"/>
<path d="M229.80,532.42 L223.20,529.52 L224.50,532.42 L223.20,535.32 Z" fill="#111"/>
<rect x="164.40" y="542.71" width="2.60" height="13.30" fill="#d0d0d0" stroke="#4a4a4a" stroke-width="0.8"/>
<rect x="167.00" y="542.71" width="6.30" height="13.30" fill="#2fa83a" stroke="#15501c" stroke-width="0.8"/>
<rect x="173.30" y="542.71" width="23.40" height="13.30" fill="#174c8c" stroke="#0a2242" stroke-width="0.8"/>
<rect x="172.70" y="548.06" width="2.6" height="2.6" fill="none" stroke="#5a3a7a" stroke-width="0.6"/>
<line x1="196.70" y1="549.36" x2="205.70" y2="549.36" stroke="#111" stroke-width="1.0"/>
<path d="M211.00,549.36 L204.40,546.46 L205.70,549.36 L204.40,552.26 Z" fill="#111"/>
<rect x="164.40" y="559.65" width="3.10" height="13.30" fill="#d0d0d0" stroke="#4a4a4a" stroke-width="0.8"/>
<rect x="167.50" y="559.65" width="130.30" height="13.30" fill="#e1097f" stroke="#5e0838" stroke-width="0.8"/>
<line x1="297.80" y1="566.30" x2="307.00" y2="566.30" stroke="#111" stroke-width="1.0"/>
<path d="M312.30,566.30 L305.70,563.40 L307.00,566.30 L305.70,569.20 Z" fill="#111"/>
<rect x="164.40" y="576.59" width="3.10" height="13.30" fill="#d0d0d0" stroke="#4a4a4a" stroke-width="0.8"/>
<rect x="167.50" y="576.59" width="66.20" height="13.30" fill="#e1097f" stroke="#5e0838" stroke-width="0.8"/>
<path d="M232.60,581.54 L236.00,584.94 M232.60,584.94 L236.00,581.54" stroke="#4a2a6a" stroke-width="0.95" fill="none"/>
<rect x="164.40" y="593.53" width="3.10" height="13.30" fill="#d0d0d0" stroke="#4a4a4a" stroke-width="0.8"/>
<rect x="167.50" y="593.53" width="31.90" height="13.30" fill="#e1097f" stroke="#5e0838" stroke-width="0.8"/>
<path d="M198.30,598.48 L201.70,601.88 M198.30,601.88 L201.70,598.48" stroke="#4a2a6a" stroke-width="0.95" fill="none"/>
<rect x="164.40" y="610.47" width="1.10" height="13.30" fill="#d0d0d0" stroke="#4a4a4a" stroke-width="0.8"/>
<rect x="165.50" y="610.47" width="11.30" height="13.30" fill="#e1097f" stroke="#5e0838" stroke-width="0.8"/>
<path d="M163.90,615.52 L167.10,618.72 M163.90,618.72 L167.10,615.52" stroke="#4a2a6a" stroke-width="0.95" fill="none"/>
<path d="M175.60,615.42 L179.00,618.82 M175.60,618.82 L179.00,615.42" stroke="#4a2a6a" stroke-width="0.95" fill="none"/>
<line x1="164.8" y1="627" x2="164.8" y2="641" stroke="#3a2a5a" stroke-width="1.0" stroke-dasharray="0.9,0.6"/>
<path d="M163.60,632.46 L166.80,635.66 M163.60,635.66 L166.80,632.46" stroke="#4a2a6a" stroke-width="0.95" fill="none"/>
<text transform="translate(329.20,477.00) scale(1.0000,1)" font-size="6.10" letter-spacing="0.06" fill="#222" stroke="#222" stroke-width="0.1">bar</text>
<rect x="329.60" y="481.90" width="5.60" height="5.60" fill="#d0d0d0" stroke="#4a4a4a" stroke-width="0.8"/>
<text transform="translate(338.40,486.90) scale(1.0000,1)" font-size="6.10" letter-spacing="0.06" fill="#222" stroke="#222" stroke-width="0.1">Awaiting reinfusion response</text>
<rect x="329.60" y="492.20" width="5.60" height="5.60" fill="#2fa83a" stroke="#15501c" stroke-width="0.8"/>
<text transform="translate(338.40,497.20) scale(1.0000,1)" font-size="6.10" letter-spacing="0.06" fill="#222" stroke="#222" stroke-width="0.1">CR with B-cell aplasia</text>
<rect x="329.60" y="502.20" width="5.60" height="5.60" fill="#174c8c" stroke="#0a2242" stroke-width="0.8"/>
<text transform="translate(338.40,507.20) scale(1.0000,1)" font-size="6.10" letter-spacing="0.06" fill="#222" stroke="#222" stroke-width="0.1">CR after HSCT</text>
<rect x="329.60" y="512.20" width="5.60" height="5.60" fill="#e1097f" stroke="#5e0838" stroke-width="0.8"/>
<text transform="translate(338.40,517.20) scale(1.0000,1)" font-size="6.10" letter-spacing="0.06" fill="#222" stroke="#222" stroke-width="0.1">Relapse</text>
<text transform="translate(329.20,530.20) scale(1.0000,1)" font-size="6.10" letter-spacing="0.06" fill="#222" stroke="#222" stroke-width="0.1">event</text>
<circle cx="331.10" cy="538.00" r="1.3" fill="#222"/>
<text transform="translate(335.60,540.20) scale(1.0000,1)" font-size="6.10" letter-spacing="0.06" fill="#222" stroke="#222" stroke-width="0.1">Additional reinfusion</text>
<rect x="329.50" y="546.30" width="3.2" height="3.2" fill="none" stroke="#4a2a6a" stroke-width="1.1"/>
<text transform="translate(335.60,550.10) scale(1.0000,1)" font-size="6.10" letter-spacing="0.06" fill="#222" stroke="#222" stroke-width="0.1">HSCT</text>
<path d="M329.00,556.30 L333.20,556.30 L331.10,559.90 Z" fill="none" stroke="#4a2a6a" stroke-width="1.1" stroke-linejoin="round"/>
<text transform="translate(335.60,560.20) scale(1.0000,1)" font-size="6.10" letter-spacing="0.06" fill="#222" stroke="#222" stroke-width="0.1">CD19− relapse</text>
<path d="M329.00,569.80 L333.20,569.80 L331.10,566.20 Z" fill="none" stroke="#4a2a6a" stroke-width="1.1" stroke-linejoin="round"/>
<text transform="translate(335.60,570.30) scale(1.0000,1)" font-size="6.10" letter-spacing="0.06" fill="#222" stroke="#222" stroke-width="0.1">CD19+ relapse</text>
<path d="M329.40,576.40 L332.80,579.80 M329.40,579.80 L332.80,576.40" stroke="#4a2a6a" stroke-width="1.1" fill="none"/>
<text transform="translate(335.60,580.30) scale(1.0000,1)" font-size="6.10" letter-spacing="0.06" fill="#222" stroke="#222" stroke-width="0.1">Died</text>
</g>
<rect x="0.5" y="0.5" width="519" height="675" fill="none" stroke="#5c5c5c" stroke-width="1.05"/>
</svg>
</body></html>
